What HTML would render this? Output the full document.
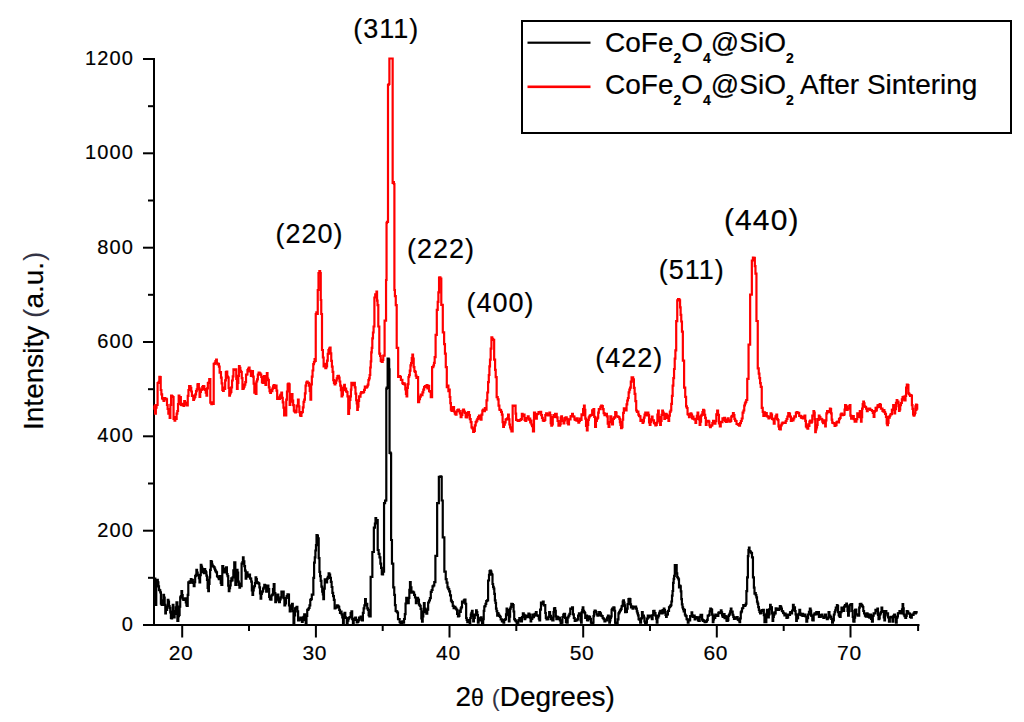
<!DOCTYPE html>
<html><head><meta charset="utf-8"><style>
html,body{margin:0;padding:0;background:#fff;}
body{width:1024px;height:722px;overflow:hidden;}
svg{display:block;}
text{font-family:"Liberation Sans", sans-serif;fill:#000;stroke:#000;stroke-width:0.2;}
.tl{font-size:20px;letter-spacing:1.2px;}
.xl{font-size:21px;letter-spacing:0.6px;}
.an{font-size:27px;letter-spacing:1px;}
.lg{font-size:28px;}
.sb{font-size:14px;font-weight:bold;}
.ax{font-size:28px;}
</style></head><body>
<svg width="1024" height="722" viewBox="0 0 1024 722">
<rect width="1024" height="722" fill="#fff"/>
<rect x="153" y="58" width="2" height="568" fill="#000"/>
<rect x="143" y="624" width="776.5" height="2" fill="#000"/>
<rect x="143" y="624.0" width="11" height="2" fill="#000"/>
<rect x="148" y="576.8" width="6" height="2" fill="#000"/>
<rect x="143" y="529.7" width="11" height="2" fill="#000"/>
<rect x="148" y="482.5" width="6" height="2" fill="#000"/>
<rect x="143" y="435.3" width="11" height="2" fill="#000"/>
<rect x="148" y="388.2" width="6" height="2" fill="#000"/>
<rect x="143" y="341.0" width="11" height="2" fill="#000"/>
<rect x="148" y="293.8" width="6" height="2" fill="#000"/>
<rect x="143" y="246.7" width="11" height="2" fill="#000"/>
<rect x="148" y="199.5" width="6" height="2" fill="#000"/>
<rect x="143" y="152.3" width="11" height="2" fill="#000"/>
<rect x="148" y="105.2" width="6" height="2" fill="#000"/>
<rect x="143" y="58.0" width="11" height="2" fill="#000"/>
<rect x="181.2" y="625" width="2" height="12.5" fill="#000"/>
<rect x="248.0" y="625" width="2" height="6" fill="#000"/>
<rect x="314.9" y="625" width="2" height="12.5" fill="#000"/>
<rect x="381.7" y="625" width="2" height="6" fill="#000"/>
<rect x="448.5" y="625" width="2" height="12.5" fill="#000"/>
<rect x="515.3" y="625" width="2" height="6" fill="#000"/>
<rect x="582.2" y="625" width="2" height="12.5" fill="#000"/>
<rect x="649.0" y="625" width="2" height="6" fill="#000"/>
<rect x="715.8" y="625" width="2" height="12.5" fill="#000"/>
<rect x="782.7" y="625" width="2" height="6" fill="#000"/>
<rect x="849.5" y="625" width="2" height="12.5" fill="#000"/>
<rect x="917.1" y="625" width="2" height="6" fill="#000"/>
<text x="134.2" y="631.0" text-anchor="end" class="tl">0</text>
<text x="134.2" y="536.7" text-anchor="end" class="tl">200</text>
<text x="134.2" y="442.3" text-anchor="end" class="tl">400</text>
<text x="134.2" y="348.0" text-anchor="end" class="tl">600</text>
<text x="134.2" y="253.7" text-anchor="end" class="tl">800</text>
<text x="134.2" y="159.3" text-anchor="end" class="tl">1000</text>
<text x="134.2" y="65.0" text-anchor="end" class="tl">1200</text>
<text x="181.1" y="660.2" text-anchor="middle" class="xl">20</text>
<text x="314.8" y="660.2" text-anchor="middle" class="xl">30</text>
<text x="448.4" y="660.2" text-anchor="middle" class="xl">40</text>
<text x="582.1" y="660.2" text-anchor="middle" class="xl">50</text>
<text x="715.7" y="660.2" text-anchor="middle" class="xl">60</text>
<text x="849.4" y="660.2" text-anchor="middle" class="xl">70</text>
<polyline points="155.00,578.6 155.30,578.6 155.30,604.8 155.60,604.8 156.25,604.8 156.25,579.9 156.90,579.9 157.20,579.9 157.20,579.8 157.50,579.8 157.80,579.8 157.80,582.4 158.10,582.4 158.40,582.4 158.40,586.3 158.70,586.3 159.00,586.3 159.00,589.8 159.30,589.8 159.62,589.8 159.62,590.4 159.95,590.4 160.27,590.4 160.27,592.3 160.60,592.3 160.90,592.3 160.90,603.6 161.20,603.6 161.52,603.6 161.52,604.7 161.85,604.7 162.18,604.7 162.18,604.8 162.50,604.8 162.80,604.8 162.80,600.4 163.10,600.4 163.40,600.4 163.40,594.8 163.70,594.8 164.02,594.8 164.02,597.6 164.35,597.6 164.68,597.6 164.68,604.8 165.00,604.8 165.30,604.8 165.30,613.5 165.60,613.5 165.90,613.5 165.90,609.2 166.20,609.2 166.50,609.2 166.50,609.8 166.80,609.8 167.12,609.8 167.12,606.5 167.45,606.5 167.77,606.5 167.77,599.8 168.10,599.8 168.40,599.8 168.40,601.7 168.70,601.7 169.00,601.7 169.00,606.0 169.30,606.0 169.62,606.0 169.62,607.8 169.95,607.8 170.27,607.8 170.27,612.3 170.60,612.3 170.90,612.3 170.90,617.9 171.20,617.9 171.50,617.9 171.50,618.5 171.80,618.5 172.12,618.5 172.12,611.5 172.45,611.5 172.77,611.5 172.77,604.8 173.10,604.8 173.40,604.8 173.40,612.7 173.70,612.7 174.00,612.7 174.00,617.3 174.30,617.3 174.60,617.3 174.60,614.0 174.90,614.0 175.20,614.0 175.20,611.0 175.50,611.0 175.82,611.0 175.82,607.3 176.15,607.3 176.48,607.3 176.48,602.3 176.80,602.3 177.40,602.3 177.40,621.0 178.00,621.0 178.32,621.0 178.32,616.2 178.65,616.2 178.98,616.2 178.98,614.8 179.30,614.8 179.60,614.8 179.60,606.7 179.90,606.7 180.20,606.7 180.20,597.3 180.50,597.3 180.82,597.3 180.82,596.0 181.15,596.0 181.48,596.0 181.48,591.1 181.80,591.1 182.10,591.1 182.10,595.0 182.40,595.0 182.70,595.0 182.70,598.6 183.00,598.6 183.32,598.6 183.32,599.8 183.63,599.8 183.95,599.8 183.95,599.5 184.27,599.5 184.58,599.5 184.58,598.6 184.90,598.6 185.20,598.6 185.20,598.3 185.50,598.3 185.80,598.3 185.80,602.3 186.10,602.3 186.43,602.3 186.43,605.4 186.75,605.4 187.07,605.4 187.07,606.0 187.40,606.0 187.70,606.0 187.70,594.8 188.00,594.8 188.30,594.8 188.30,582.4 188.60,582.4 188.92,582.4 188.92,582.9 189.23,582.9 189.55,582.9 189.55,581.4 189.87,581.4 190.18,581.4 190.18,582.4 190.50,582.4 190.82,582.4 190.82,579.2 191.13,579.2 191.45,579.2 191.45,582.6 191.77,582.6 192.08,582.6 192.08,579.9 192.40,579.9 192.85,579.9 192.85,582.9 193.30,582.9 193.75,582.9 193.75,586.1 194.20,586.1 194.52,586.1 194.52,582.2 194.85,582.2 195.18,582.2 195.18,576.1 195.50,576.1 195.80,576.1 195.80,574.9 196.10,574.9 196.40,574.9 196.40,569.9 196.70,569.9 197.02,569.9 197.02,572.6 197.33,572.6 197.65,572.6 197.65,575.3 197.97,575.3 198.28,575.3 198.28,574.9 198.60,574.9 198.90,574.9 198.90,578.1 199.20,578.1 199.50,578.1 199.50,582.4 199.80,582.4 200.12,582.4 200.12,575.2 200.45,575.2 200.77,575.2 200.77,564.9 201.10,564.9 201.40,564.9 201.40,566.5 201.70,566.5 202.00,566.5 202.00,568.7 202.30,568.7 202.62,568.7 202.62,572.1 202.95,572.1 203.27,572.1 203.27,571.2 203.60,571.2 203.92,571.2 203.92,573.1 204.23,573.1 204.55,573.1 204.55,569.2 204.87,569.2 205.18,569.2 205.18,571.2 205.50,571.2 205.80,571.2 205.80,572.3 206.10,572.3 206.40,572.3 206.40,575.6 206.70,575.6 207.00,575.6 207.00,579.9 207.30,579.9 207.62,579.9 207.62,587.8 207.95,587.8 208.27,587.8 208.27,591.1 208.60,591.1 208.90,591.1 208.90,583.9 209.20,583.9 209.50,583.9 209.50,577.4 209.80,577.4 210.12,577.4 210.12,569.9 210.45,569.9 210.77,569.9 210.77,561.2 211.10,561.2 211.40,561.2 211.40,561.9 211.70,561.9 212.00,561.9 212.00,564.6 212.30,564.6 212.60,564.6 212.60,566.2 212.90,566.2 213.22,566.2 213.22,566.5 213.53,566.5 213.85,566.5 213.85,567.1 214.17,567.1 214.48,567.1 214.48,568.7 214.80,568.7 215.12,568.7 215.12,570.4 215.43,570.4 215.75,570.4 215.75,571.6 216.07,571.6 216.38,571.6 216.38,572.4 216.70,572.4 217.00,572.4 217.00,576.1 217.30,576.1 217.60,576.1 217.60,576.6 217.90,576.6 218.20,576.6 218.20,577.4 218.50,577.4 218.82,577.4 218.82,579.1 219.13,579.1 219.45,579.1 219.45,578.3 219.77,578.3 220.08,578.3 220.08,576.1 220.40,576.1 220.73,576.1 220.73,583.0 221.05,583.0 221.38,583.0 221.38,584.9 221.70,584.9 222.30,584.9 222.30,566.2 222.90,566.2 223.22,566.2 223.22,569.1 223.53,569.1 223.85,569.1 223.85,568.6 224.17,568.6 224.48,568.6 224.48,572.4 224.80,572.4 225.25,572.4 225.25,571.7 225.70,571.7 226.15,571.7 226.15,567.4 226.60,567.4 226.93,567.4 226.93,574.1 227.25,574.1 227.57,574.1 227.57,576.1 227.90,576.1 228.20,576.1 228.20,585.6 228.50,585.6 228.80,585.6 228.80,591.1 229.10,591.1 229.42,591.1 229.42,588.1 229.73,588.1 230.05,588.1 230.05,585.5 230.37,585.5 230.68,585.5 230.68,581.1 231.00,581.1 231.32,581.1 231.32,578.4 231.63,578.4 231.95,578.4 231.95,580.3 232.27,580.3 232.58,580.3 232.58,577.4 232.90,577.4 233.35,577.4 233.35,570.3 233.80,570.3 234.25,570.3 234.25,562.4 234.70,562.4 235.35,562.4 235.35,584.9 236.00,584.9 236.30,584.9 236.30,576.3 236.60,576.3 236.90,576.3 236.90,569.9 237.20,569.9 237.52,569.9 237.52,572.7 237.83,572.7 238.15,572.7 238.15,581.7 238.47,581.7 238.78,581.7 238.78,584.9 239.10,584.9 239.42,584.9 239.42,587.7 239.73,587.7 240.05,587.7 240.05,583.6 240.37,583.6 240.68,583.6 240.68,586.1 241.00,586.1 241.60,586.1 241.60,563.7 242.20,563.7 242.45,563.7 242.45,562.1 242.70,562.1 242.95,562.1 242.95,557.4 243.20,557.4 243.57,557.4 243.57,561.4 243.95,561.4 244.32,561.4 244.32,566.2 244.70,566.2 245.02,566.2 245.02,570.7 245.35,570.7 245.68,570.7 245.68,578.6 246.00,578.6 246.30,578.6 246.30,574.5 246.60,574.5 246.90,574.5 246.90,572.4 247.20,572.4 247.52,572.4 247.52,575.0 247.83,575.0 248.15,575.0 248.15,576.7 248.47,576.7 248.78,576.7 248.78,576.1 249.10,576.1 249.40,576.1 249.40,574.7 249.70,574.7 250.00,574.7 250.00,578.3 250.30,578.3 250.60,578.3 250.60,578.6 250.90,578.6 251.22,578.6 251.22,581.7 251.53,581.7 251.85,581.7 251.85,590.5 252.17,590.5 252.48,590.5 252.48,594.8 252.80,594.8 253.10,594.8 253.10,590.3 253.40,590.3 253.70,590.3 253.70,587.4 254.00,587.4 254.32,587.4 254.32,586.0 254.63,586.0 254.95,586.0 254.95,583.1 255.27,583.1 255.58,583.1 255.58,577.4 255.90,577.4 256.22,577.4 256.22,579.1 256.53,579.1 256.85,579.1 256.85,583.2 257.17,583.2 257.48,583.2 257.48,582.4 257.80,582.4 258.12,582.4 258.12,583.1 258.43,583.1 258.75,583.1 258.75,583.6 259.07,583.6 259.38,583.6 259.38,587.4 259.70,587.4 260.00,587.4 260.00,593.5 260.30,593.5 260.60,593.5 260.60,598.6 260.90,598.6 261.22,598.6 261.22,593.8 261.53,593.8 261.85,593.8 261.85,592.1 262.17,592.1 262.48,592.1 262.48,591.1 262.80,591.1 263.10,591.1 263.10,588.6 263.40,588.6 263.70,588.6 263.70,587.5 264.00,587.5 264.30,587.5 264.30,584.9 264.60,584.9 264.92,584.9 264.92,585.4 265.23,585.4 265.55,585.4 265.55,587.1 265.87,587.1 266.18,587.1 266.18,591.6 266.50,591.6 266.88,591.6 266.88,590.4 267.25,590.4 267.62,590.4 267.62,585.5 268.00,585.5 268.38,585.5 268.38,589.1 268.77,589.1 269.15,589.1 269.15,596.9 269.53,596.9 269.92,596.9 269.92,599.2 270.30,599.2 270.68,599.2 270.68,599.6 271.07,599.6 271.45,599.6 271.45,595.5 271.83,595.5 272.22,595.5 272.22,594.6 272.60,594.6 272.98,594.6 272.98,589.1 273.35,589.1 273.73,589.1 273.73,584.0 274.10,584.0 274.50,584.0 274.50,593.2 274.90,593.2 275.30,593.2 275.30,602.2 275.70,602.2 276.07,602.2 276.07,600.4 276.43,600.4 276.80,600.4 276.80,597.6 277.17,597.6 277.53,597.6 277.53,594.6 277.90,594.6 278.30,594.6 278.30,598.7 278.70,598.7 279.10,598.7 279.10,602.2 279.50,602.2 279.88,602.2 279.88,599.3 280.27,599.3 280.65,599.3 280.65,597.3 281.03,597.3 281.42,597.3 281.42,591.6 281.80,591.6 282.18,591.6 282.18,591.6 282.55,591.6 282.93,591.6 282.93,591.6 283.30,591.6 283.68,591.6 283.68,598.1 284.05,598.1 284.43,598.1 284.43,605.3 284.80,605.3 285.18,605.3 285.18,603.3 285.57,603.3 285.95,603.3 285.95,597.9 286.33,597.9 286.72,597.9 286.72,596.1 287.10,596.1 287.48,596.1 287.48,594.4 287.85,594.4 288.23,594.4 288.23,594.6 288.60,594.6 288.98,594.6 288.98,605.4 289.35,605.4 289.73,605.4 289.73,611.4 290.10,611.4 290.48,611.4 290.48,609.0 290.87,609.0 291.25,609.0 291.25,606.6 291.63,606.6 292.02,606.6 292.02,603.8 292.40,603.8 292.77,603.8 292.77,611.2 293.15,611.2 293.52,611.2 293.52,623.5 293.90,623.5 294.30,623.5 294.30,615.5 294.70,615.5 295.10,615.5 295.10,608.3 295.50,608.3 295.88,608.3 295.88,607.9 296.25,607.9 296.62,607.9 296.62,606.8 297.00,606.8 297.38,606.8 297.38,611.3 297.75,611.3 298.12,611.3 298.12,620.5 298.50,620.5 298.88,620.5 298.88,620.1 299.27,620.1 299.65,620.1 299.65,619.2 300.03,619.2 300.42,619.2 300.42,617.5 300.80,617.5 301.18,617.5 301.18,617.6 301.55,617.6 301.93,617.6 301.93,622.0 302.30,622.0 302.68,622.0 302.68,620.1 303.07,620.1 303.45,620.1 303.45,616.8 303.83,616.8 304.22,616.8 304.22,614.4 304.60,614.4 304.98,614.4 304.98,619.8 305.35,619.8 305.73,619.8 305.73,623.5 306.10,623.5 306.48,623.5 306.48,615.9 306.85,615.9 307.23,615.9 307.23,609.8 307.60,609.8 307.98,609.8 307.98,609.3 308.37,609.3 308.75,609.3 308.75,608.0 309.13,608.0 309.52,608.0 309.52,605.3 309.90,605.3 310.27,605.3 310.27,599.9 310.65,599.9 311.02,599.9 311.02,599.2 311.40,599.2 311.80,599.2 311.80,594.7 312.20,594.7 312.60,594.7 312.60,594.6 313.00,594.6 313.35,594.6 313.35,577.9 313.70,577.9 314.10,577.9 314.10,562.6 314.50,562.6 314.80,562.6 314.80,557.4 315.10,557.4 315.40,557.4 315.40,550.5 315.70,550.5 315.98,550.5 315.98,545.2 316.25,545.2 316.52,545.2 316.52,535.2 316.80,535.2 317.18,535.2 317.18,535.5 317.55,535.5 317.93,535.5 317.93,538.3 318.30,538.3 318.70,538.3 318.70,558.1 319.10,558.1 319.45,558.1 319.45,571.8 319.80,571.8 320.10,571.8 320.10,576.1 320.40,576.1 320.70,576.1 320.70,580.9 321.00,580.9 321.40,580.9 321.40,586.7 321.80,586.7 322.20,586.7 322.20,591.6 322.60,591.6 322.85,591.6 322.85,594.5 323.10,594.5 323.35,594.5 323.35,599.2 323.60,599.2 323.98,599.2 323.98,588.6 324.35,588.6 324.73,588.6 324.73,579.4 325.10,579.4 325.50,579.4 325.50,580.0 325.90,580.0 326.30,580.0 326.30,582.4 326.70,582.4 327.08,582.4 327.08,578.7 327.47,578.7 327.85,578.7 327.85,576.8 328.23,576.8 328.62,576.8 328.62,573.3 329.00,573.3 329.38,573.3 329.38,574.6 329.75,574.6 330.12,574.6 330.12,577.9 330.50,577.9 330.88,577.9 330.88,581.8 331.25,581.8 331.62,581.8 331.62,587.0 332.00,587.0 332.38,587.0 332.38,592.9 332.75,592.9 333.12,592.9 333.12,596.1 333.50,596.1 333.88,596.1 333.88,599.8 334.25,599.8 334.62,599.8 334.62,608.3 335.00,608.3 335.38,608.3 335.38,607.6 335.77,607.6 336.15,607.6 336.15,607.5 336.53,607.5 336.92,607.5 336.92,605.3 337.30,605.3 337.68,605.3 337.68,605.9 338.07,605.9 338.45,605.9 338.45,606.9 338.83,606.9 339.22,606.9 339.22,609.8 339.60,609.8 339.98,609.8 339.98,612.9 340.37,612.9 340.75,612.9 340.75,611.6 341.13,611.6 341.52,611.6 341.52,614.4 341.90,614.4 342.27,614.4 342.27,617.4 342.65,617.4 343.02,617.4 343.02,623.5 343.40,623.5 343.77,623.5 343.77,617.9 344.15,617.9 344.52,617.9 344.52,612.9 344.90,612.9 345.28,612.9 345.28,617.4 345.67,617.4 346.05,617.4 346.05,618.0 346.43,618.0 346.82,618.0 346.82,623.5 347.20,623.5 347.58,623.5 347.58,620.6 347.97,620.6 348.35,620.6 348.35,618.7 348.73,618.7 349.12,618.7 349.12,617.5 349.50,617.5 349.88,617.5 349.88,617.1 350.27,617.1 350.65,617.1 350.65,613.1 351.03,613.1 351.42,613.1 351.42,611.4 351.80,611.4 352.18,611.4 352.18,619.2 352.55,619.2 352.93,619.2 352.93,623.5 353.30,623.5 353.68,623.5 353.68,619.8 354.07,619.8 354.45,619.8 354.45,618.7 354.83,618.7 355.22,618.7 355.22,617.5 355.60,617.5 355.98,617.5 355.98,619.8 356.37,619.8 356.75,619.8 356.75,622.4 357.13,622.4 357.52,622.4 357.52,622.0 357.90,622.0 358.28,622.0 358.28,620.3 358.67,620.3 359.05,620.3 359.05,617.6 359.43,617.6 359.82,617.6 359.82,617.5 360.20,617.5 360.58,617.5 360.58,616.6 360.97,616.6 361.35,616.6 361.35,619.6 361.73,619.6 362.12,619.6 362.12,620.5 362.50,620.5 362.88,620.5 362.88,612.9 363.25,612.9 363.62,612.9 363.62,608.3 364.00,608.3 364.38,608.3 364.38,605.3 364.75,605.3 365.12,605.3 365.12,599.2 365.50,599.2 365.85,599.2 365.85,604.0 366.20,604.0 366.55,604.0 366.55,603.8 366.90,603.8 367.25,603.8 367.25,608.4 367.60,608.4 367.95,608.4 367.95,609.9 368.30,609.9 368.65,609.9 368.65,615.2 369.00,615.2 369.35,615.2 369.35,616.3 369.70,616.3 370.65,616.3 370.65,576.8 371.60,576.8 372.35,576.8 372.35,552.0 373.10,552.0 373.85,552.0 373.85,527.6 374.60,527.6 374.90,527.6 374.90,523.5 375.20,523.5 375.50,523.5 375.50,518.0 375.80,518.0 376.15,518.0 376.15,520.5 376.50,520.5 376.85,520.5 376.85,520.0 377.20,520.0 377.70,520.0 377.70,550.0 378.20,550.0 378.63,550.0 378.63,553.8 379.07,553.8 379.50,553.8 379.50,557.3 379.93,557.3 380.37,557.3 380.37,563.7 380.80,563.7 381.12,563.7 381.12,567.9 381.45,567.9 381.78,567.9 381.78,574.2 382.10,574.2 382.43,574.2 382.43,574.4 382.75,574.4 383.07,574.4 383.07,571.6 383.40,571.6 384.05,571.6 384.05,503.2 384.70,503.2 385.07,503.2 385.07,500.7 385.45,500.7 385.82,500.7 385.82,500.5 386.20,500.5 386.30,500.5 386.30,388.8 386.40,388.8 386.70,388.8 386.70,387.6 387.00,387.6 387.30,387.6 387.30,388.0 387.60,388.0 387.65,388.0 387.65,358.7 387.70,358.7 388.02,358.7 388.02,358.7 388.35,358.7 388.68,358.7 388.68,359.5 389.00,359.5 389.15,359.5 389.15,369.4 389.30,369.4 389.55,369.4 389.55,452.8 389.80,452.8 390.08,452.8 390.08,452.7 390.35,452.7 390.62,452.7 390.62,453.5 390.90,453.5 391.10,453.5 391.10,540.0 391.30,540.0 391.95,540.0 391.95,563.7 392.60,563.7 393.25,563.7 393.25,587.4 393.90,587.4 394.25,587.4 394.25,594.8 394.60,594.8 394.95,594.8 394.95,605.2 395.30,605.2 395.65,605.2 395.65,611.0 396.00,611.0 396.40,611.0 396.40,611.3 396.80,611.3 397.20,611.3 397.20,612.5 397.60,612.5 398.00,612.5 398.00,619.2 398.40,619.2 398.80,619.2 398.80,619.0 399.20,619.0 399.63,619.0 399.63,622.2 400.07,622.2 400.50,622.2 400.50,624.0 400.93,624.0 401.37,624.0 401.37,622.9 401.80,622.9 402.25,622.9 402.25,621.3 402.70,621.3 403.15,621.3 403.15,622.6 403.60,622.6 404.05,622.6 404.05,619.0 404.50,619.0 404.85,619.0 404.85,614.1 405.20,614.1 405.55,614.1 405.55,603.5 405.90,603.5 406.25,603.5 406.25,597.9 406.60,597.9 407.05,597.9 407.05,601.8 407.50,601.8 407.95,601.8 407.95,603.2 408.40,603.2 408.72,603.2 408.72,597.9 409.03,597.9 409.35,597.9 409.35,589.9 409.67,589.9 409.98,589.9 409.98,582.1 410.30,582.1 410.68,582.1 410.68,587.4 411.05,587.4 411.43,587.4 411.43,592.6 411.80,592.6 412.12,592.6 412.12,591.5 412.43,591.5 412.75,591.5 412.75,591.8 413.07,591.8 413.38,591.8 413.38,592.6 413.70,592.6 414.13,592.6 414.13,594.8 414.57,594.8 415.00,594.8 415.00,597.5 415.43,597.5 415.87,597.5 415.87,603.2 416.30,603.2 416.62,603.2 416.62,601.0 416.95,601.0 417.28,601.0 417.28,597.9 417.60,597.9 418.05,597.9 418.05,599.5 418.50,599.5 418.95,599.5 418.95,604.7 419.40,604.7 419.85,604.7 419.85,605.8 420.30,605.8 420.65,605.8 420.65,608.8 421.00,608.8 421.35,608.8 421.35,618.4 421.70,618.4 422.05,618.4 422.05,621.6 422.40,621.6 422.70,621.6 422.70,616.4 423.00,616.4 423.30,616.4 423.30,611.5 423.60,611.5 423.90,611.5 423.90,603.2 424.20,603.2 424.63,603.2 424.63,608.7 425.07,608.7 425.50,608.7 425.50,612.2 425.93,612.2 426.37,612.2 426.37,613.7 426.80,613.7 427.25,613.7 427.25,609.7 427.70,609.7 428.15,609.7 428.15,602.5 428.60,602.5 429.05,602.5 429.05,600.5 429.50,600.5 429.93,600.5 429.93,598.2 430.37,598.2 430.80,598.2 430.80,591.9 431.23,591.9 431.67,591.9 431.67,590.0 432.10,590.0 432.53,590.0 432.53,586.4 432.97,586.4 433.40,586.4 433.40,585.5 433.83,585.5 434.27,585.5 434.27,582.1 434.70,582.1 435.40,582.1 435.40,555.8 436.10,555.8 437.15,555.8 437.15,503.2 438.20,503.2 438.85,503.2 438.85,476.8 439.50,476.8 439.80,476.8 439.80,476.9 440.10,476.9 440.40,476.9 440.40,476.4 440.70,476.4 441.00,476.4 441.00,476.8 441.30,476.8 441.70,476.8 441.70,500.5 442.10,500.5 442.75,500.5 442.75,537.4 443.40,537.4 444.35,537.4 444.35,571.6 445.30,571.6 445.73,571.6 445.73,579.1 446.17,579.1 446.60,579.1 446.60,582.7 447.03,582.7 447.47,582.7 447.47,587.4 447.90,587.4 448.33,587.4 448.33,589.2 448.77,589.2 449.20,589.2 449.20,591.4 449.63,591.4 450.07,591.4 450.07,595.3 450.50,595.3 450.95,595.3 450.95,600.6 451.40,600.6 451.85,600.6 451.85,602.2 452.30,602.2 452.75,602.2 452.75,605.8 453.20,605.8 453.63,605.8 453.63,608.1 454.07,608.1 454.50,608.1 454.50,606.8 454.93,606.8 455.37,606.8 455.37,608.4 455.80,608.4 456.23,608.4 456.23,609.5 456.67,609.5 457.10,609.5 457.10,613.8 457.53,613.8 457.97,613.8 457.97,616.3 458.40,616.3 458.74,616.3 458.74,615.9 459.07,615.9 459.41,615.9 459.41,610.7 459.75,610.7 460.09,610.7 460.09,611.8 460.43,611.8 460.76,611.8 460.76,608.4 461.10,608.4 461.40,608.4 461.40,607.1 461.70,607.1 462.00,607.1 462.00,601.6 462.30,601.6 462.60,601.6 462.60,602.7 462.90,602.7 463.20,602.7 463.20,602.4 463.50,602.4 463.80,602.4 463.80,600.4 464.10,600.4 464.55,600.4 464.55,599.7 465.00,599.7 465.45,599.7 465.45,603.9 465.90,603.9 466.15,603.9 466.15,618.0 466.40,618.0 466.70,618.0 466.70,619.8 467.00,619.8 467.30,619.8 467.30,622.1 467.60,622.1 467.90,622.1 467.90,621.5 468.20,621.5 468.50,621.5 468.50,620.0 468.80,620.0 469.10,620.0 469.10,621.9 469.40,621.9 469.70,621.9 469.70,623.8 470.00,623.8 470.27,623.8 470.27,618.0 470.55,618.0 470.83,618.0 470.83,614.5 471.10,614.5 471.40,614.5 471.40,612.8 471.70,612.8 472.00,612.8 472.00,610.9 472.30,610.9 472.60,610.9 472.60,615.8 472.90,615.8 473.20,615.8 473.20,621.5 473.50,621.5 473.93,621.5 473.93,617.9 474.35,617.9 474.77,617.9 474.77,614.5 475.20,614.5 475.50,614.5 475.50,615.1 475.80,615.1 476.10,615.1 476.10,610.4 476.40,610.4 476.70,610.4 476.70,612.1 477.00,612.1 477.30,612.1 477.30,615.2 477.60,615.2 477.90,615.2 477.90,622.7 478.20,622.7 478.62,622.7 478.62,619.6 479.05,619.6 479.47,619.6 479.47,620.3 479.90,620.3 480.20,620.3 480.20,618.0 480.50,618.0 480.80,618.0 480.80,617.3 481.10,617.3 481.40,617.3 481.40,619.1 481.70,619.1 482.00,619.1 482.00,623.8 482.30,623.8 482.60,623.8 482.60,623.8 482.90,623.8 483.17,623.8 483.17,619.1 483.45,619.1 483.73,619.1 483.73,610.9 484.00,610.9 484.30,610.9 484.30,606.5 484.60,606.5 484.90,606.5 484.90,606.2 485.20,606.2 485.50,606.2 485.50,603.9 485.80,603.9 486.23,603.9 486.23,601.2 486.65,601.2 487.07,601.2 487.07,600.4 487.50,600.4 488.10,600.4 488.10,580.5 488.70,580.5 489.00,580.5 489.00,574.9 489.30,574.9 489.60,574.9 489.60,571.1 489.90,571.1 490.20,571.1 490.20,570.7 490.50,570.7 490.80,570.7 490.80,571.7 491.10,571.7 491.38,571.7 491.38,573.9 491.65,573.9 491.92,573.9 491.92,574.6 492.20,574.6 492.50,574.6 492.50,584.0 492.80,584.0 493.10,584.0 493.10,586.8 493.40,586.8 493.70,586.8 493.70,588.7 494.00,588.7 494.30,588.7 494.30,593.9 494.60,593.9 494.90,593.9 494.90,600.4 495.20,600.4 495.48,600.4 495.48,603.0 495.75,603.0 496.02,603.0 496.02,608.6 496.30,608.6 496.60,608.6 496.60,611.2 496.90,611.2 497.20,611.2 497.20,615.6 497.50,615.6 497.80,615.6 497.80,613.2 498.10,613.2 498.40,613.2 498.40,614.5 498.70,614.5 499.12,614.5 499.12,615.9 499.55,615.9 499.97,615.9 499.97,616.8 500.40,616.8 500.70,616.8 500.70,619.4 501.00,619.4 501.30,619.4 501.30,619.3 501.60,619.3 501.90,619.3 501.90,621.5 502.20,621.5 502.62,621.5 502.62,620.0 503.05,620.0 503.47,620.0 503.47,622.7 503.90,622.7 504.20,622.7 504.20,619.9 504.50,619.9 504.80,619.9 504.80,619.7 505.10,619.7 505.40,619.7 505.40,619.1 505.70,619.1 506.00,619.1 506.00,614.4 506.30,614.4 506.60,614.4 506.60,608.6 506.90,608.6 507.17,608.6 507.17,610.6 507.45,610.6 507.73,610.6 507.73,609.8 508.00,609.8 508.30,609.8 508.30,615.1 508.60,615.1 508.90,615.1 508.90,621.5 509.20,621.5 509.50,621.5 509.50,616.6 509.80,616.6 510.10,616.6 510.10,608.6 510.40,608.6 510.70,608.6 510.70,606.9 511.00,606.9 511.30,606.9 511.30,603.9 511.60,603.9 512.03,603.9 512.03,604.2 512.45,604.2 512.88,604.2 512.88,605.1 513.30,605.1 513.60,605.1 513.60,611.5 513.90,611.5 514.20,611.5 514.20,619.1 514.50,619.1 514.95,619.1 514.95,620.3 515.40,620.3 515.85,620.3 515.85,621.5 516.30,621.5 516.72,621.5 516.72,623.1 517.15,623.1 517.58,623.1 517.58,622.7 518.00,622.7 518.45,622.7 518.45,620.0 518.90,620.0 519.35,620.0 519.35,618.0 519.80,618.0 520.22,618.0 520.22,620.7 520.65,620.7 521.08,620.7 521.08,621.5 521.50,621.5 521.95,621.5 521.95,617.2 522.40,617.2 522.85,617.2 522.85,613.3 523.30,613.3 523.72,613.3 523.72,614.9 524.15,614.9 524.58,614.9 524.58,619.1 525.00,619.1 525.30,619.1 525.30,617.5 525.60,617.5 525.90,617.5 525.90,615.6 526.20,615.6 526.65,615.6 526.65,617.2 527.10,617.2 527.55,617.2 527.55,616.8 528.00,616.8 528.42,616.8 528.42,613.5 528.85,613.5 529.28,613.5 529.28,614.5 529.70,614.5 530.00,614.5 530.00,617.6 530.30,617.6 530.60,617.6 530.60,621.5 530.90,621.5 531.20,621.5 531.20,618.8 531.50,618.8 531.80,618.8 531.80,618.7 532.10,618.7 532.40,618.7 532.40,614.5 532.70,614.5 533.12,614.5 533.12,617.2 533.55,617.2 533.97,617.2 533.97,615.6 534.40,615.6 534.70,615.6 534.70,613.8 535.00,613.8 535.30,613.8 535.30,615.3 535.60,615.3 535.90,615.3 535.90,612.1 536.20,612.1 536.62,612.1 536.62,615.3 537.05,615.3 537.47,615.3 537.47,615.6 537.90,615.6 538.20,615.6 538.20,616.0 538.50,616.0 538.80,616.0 538.80,618.6 539.10,618.6 539.40,618.6 539.40,620.3 539.70,620.3 540.12,620.3 540.12,609.6 540.55,609.6 540.97,609.6 540.97,602.7 541.40,602.7 541.70,602.7 541.70,603.9 542.00,603.9 542.30,603.9 542.30,602.8 542.60,602.8 542.90,602.8 542.90,601.6 543.20,601.6 543.65,601.6 543.65,605.3 544.10,605.3 544.55,605.3 544.55,605.1 545.00,605.1 545.27,605.1 545.27,613.0 545.55,613.0 545.83,613.0 545.83,618.0 546.10,618.0 546.55,618.0 546.55,619.4 547.00,619.4 547.45,619.4 547.45,619.1 547.90,619.1 548.33,619.1 548.33,616.8 548.75,616.8 549.17,616.8 549.17,612.1 549.60,612.1 550.05,612.1 550.05,615.9 550.50,615.9 550.95,615.9 550.95,619.1 551.40,619.1 551.70,619.1 551.70,617.5 552.00,617.5 552.30,617.5 552.30,620.3 552.60,620.3 552.90,620.3 552.90,620.3 553.20,620.3 553.48,620.3 553.48,612.0 553.75,612.0 554.02,612.0 554.02,608.6 554.30,608.6 554.60,608.6 554.60,608.0 554.90,608.0 555.20,608.0 555.20,610.9 555.50,610.9 555.80,610.9 555.80,616.4 556.10,616.4 556.40,616.4 556.40,619.1 556.70,619.1 557.12,619.1 557.12,616.8 557.55,616.8 557.97,616.8 557.97,619.1 558.40,619.1 558.70,619.1 558.70,617.5 559.00,617.5 559.30,617.5 559.30,617.9 559.60,617.9 559.90,617.9 559.90,620.3 560.20,620.3 560.65,620.3 560.65,623.4 561.10,623.4 561.55,623.4 561.55,622.7 562.00,622.7 562.42,622.7 562.42,617.0 562.85,617.0 563.28,617.0 563.28,614.5 563.70,614.5 564.15,614.5 564.15,613.9 564.60,613.9 565.05,613.9 565.05,618.0 565.50,618.0 565.92,618.0 565.92,622.1 566.35,622.1 566.78,622.1 566.78,622.7 567.20,622.7 567.65,622.7 567.65,617.3 568.10,617.3 568.55,617.3 568.55,615.6 569.00,615.6 569.42,615.6 569.42,613.8 569.85,613.8 570.28,613.8 570.28,608.6 570.70,608.6 571.15,608.6 571.15,608.9 571.60,608.9 572.05,608.9 572.05,607.4 572.50,607.4 572.95,607.4 572.95,614.4 573.40,614.4 573.85,614.4 573.85,618.0 574.30,618.0 574.72,618.0 574.72,621.0 575.13,621.0 575.55,621.0 575.55,619.9 575.97,619.9 576.38,619.9 576.38,620.3 576.80,620.3 577.22,620.3 577.22,619.4 577.65,619.4 578.08,619.4 578.08,615.6 578.50,615.6 578.95,615.6 578.95,613.3 579.40,613.3 579.85,613.3 579.85,615.6 580.30,615.6 580.57,615.6 580.57,620.5 580.85,620.5 581.12,620.5 581.12,622.7 581.40,622.7 581.70,622.7 581.70,612.1 582.00,612.1 582.25,612.1 582.25,609.8 582.50,609.8 582.75,609.8 582.75,607.4 583.00,607.4 583.35,607.4 583.35,610.8 583.70,610.8 584.05,610.8 584.05,612.1 584.40,612.1 584.67,612.1 584.67,613.1 584.95,613.1 585.23,613.1 585.23,618.0 585.50,618.0 585.80,618.0 585.80,618.0 586.10,618.0 586.40,618.0 586.40,615.6 586.70,615.6 587.00,615.6 587.00,620.1 587.30,620.1 587.60,620.1 587.60,620.3 587.90,620.3 588.33,620.3 588.33,616.4 588.75,616.4 589.17,616.4 589.17,616.8 589.60,616.8 590.05,616.8 590.05,618.9 590.50,618.9 590.95,618.9 590.95,622.7 591.40,622.7 591.70,622.7 591.70,623.0 592.00,623.0 592.30,623.0 592.30,624.3 592.60,624.3 592.90,624.3 592.90,622.7 593.20,622.7 593.48,622.7 593.48,616.1 593.75,616.1 594.02,616.1 594.02,612.1 594.30,612.1 594.60,612.1 594.60,610.5 594.90,610.5 595.20,610.5 595.20,610.8 595.50,610.8 595.80,610.8 595.80,612.1 596.10,612.1 596.55,612.1 596.55,614.4 597.00,614.4 597.45,614.4 597.45,615.6 597.90,615.6 598.33,615.6 598.33,615.1 598.75,615.1 599.17,615.1 599.17,612.1 599.60,612.1 600.05,612.1 600.05,613.3 600.50,613.3 600.95,613.3 600.95,615.6 601.40,615.6 601.83,615.6 601.83,616.1 602.25,616.1 602.67,616.1 602.67,618.0 603.10,618.0 603.55,618.0 603.55,619.2 604.00,619.2 604.45,619.2 604.45,621.5 604.90,621.5 605.33,621.5 605.33,620.2 605.75,620.2 606.17,620.2 606.17,620.3 606.60,620.3 607.05,620.3 607.05,617.5 607.50,617.5 607.95,617.5 607.95,615.6 608.40,615.6 608.70,615.6 608.70,617.1 609.00,617.1 609.30,617.1 609.30,622.7 609.60,622.7 609.88,622.7 609.88,620.4 610.15,620.4 610.43,620.4 610.43,618.0 610.70,618.0 611.00,618.0 611.00,616.3 611.30,616.3 611.60,616.3 611.60,609.8 611.90,609.8 612.20,609.8 612.20,608.6 612.50,608.6 612.80,608.6 612.80,609.4 613.10,609.4 613.40,609.4 613.40,607.4 613.70,607.4 613.98,607.4 613.98,607.5 614.25,607.5 614.52,607.5 614.52,610.9 614.80,610.9 615.10,610.9 615.10,622.7 615.40,622.7 615.70,622.7 615.70,624.0 616.00,624.0 616.30,624.0 616.30,624.7 616.60,624.7 616.90,624.7 616.90,623.8 617.20,623.8 617.62,623.8 617.62,619.4 618.05,619.4 618.47,619.4 618.47,613.3 618.90,613.3 619.20,613.3 619.20,612.2 619.50,612.2 619.80,612.2 619.80,610.9 620.10,610.9 620.40,610.9 620.40,609.8 620.70,609.8 621.00,609.8 621.00,608.8 621.30,608.8 621.60,608.8 621.60,606.3 621.90,606.3 622.17,606.3 622.17,605.9 622.45,605.9 622.73,605.9 622.73,601.6 623.00,601.6 623.30,601.6 623.30,600.4 623.60,600.4 623.90,600.4 623.90,602.7 624.20,602.7 624.50,602.7 624.50,605.4 624.80,605.4 625.10,605.4 625.10,612.1 625.40,612.1 625.70,612.1 625.70,612.2 626.00,612.2 626.30,612.2 626.30,611.8 626.60,611.8 626.90,611.8 626.90,608.6 627.20,608.6 627.62,608.6 627.62,604.0 628.05,604.0 628.47,604.0 628.47,599.2 628.90,599.2 629.20,599.2 629.20,598.9 629.50,598.9 629.80,598.9 629.80,599.2 630.10,599.2 630.40,599.2 630.40,604.4 630.70,604.4 631.00,604.4 631.00,607.4 631.30,607.4 631.72,607.4 631.72,606.4 632.15,606.4 632.58,606.4 632.58,608.6 633.00,608.6 633.45,608.6 633.45,606.8 633.90,606.8 634.35,606.8 634.35,607.4 634.80,607.4 635.22,607.4 635.22,606.5 635.65,606.5 636.08,606.5 636.08,608.6 636.50,608.6 636.80,608.6 636.80,611.4 637.10,611.4 637.40,611.4 637.40,613.3 637.70,613.3 638.00,613.3 638.00,615.3 638.30,615.3 638.60,615.3 638.60,619.1 638.90,619.1 639.33,619.1 639.33,619.6 639.75,619.6 640.17,619.6 640.17,622.7 640.60,622.7 641.05,622.7 641.05,618.4 641.50,618.4 641.95,618.4 641.95,612.1 642.40,612.1 642.70,612.1 642.70,616.1 643.00,616.1 643.30,616.1 643.30,615.6 643.60,615.6 643.88,615.6 643.88,617.5 644.15,617.5 644.43,617.5 644.43,621.5 644.70,621.5 645.15,621.5 645.15,623.1 645.60,623.1 646.05,623.1 646.05,622.7 646.50,622.7 646.92,622.7 646.92,618.7 647.35,618.7 647.78,618.7 647.78,615.6 648.20,615.6 648.60,615.6 648.60,617.4 649.00,617.4 649.40,617.4 649.40,616.0 649.80,616.0 650.20,616.0 650.20,615.6 650.60,615.6 651.03,615.6 651.03,616.2 651.45,616.2 651.88,616.2 651.88,619.1 652.30,619.1 652.60,619.1 652.60,615.0 652.90,615.0 653.20,615.0 653.20,611.2 653.50,611.2 653.80,611.2 653.80,610.9 654.10,610.9 654.55,610.9 654.55,613.1 655.00,613.1 655.45,613.1 655.45,615.6 655.90,615.6 656.17,615.6 656.17,618.6 656.45,618.6 656.73,618.6 656.73,622.7 657.00,622.7 657.45,622.7 657.45,617.5 657.90,617.5 658.35,617.5 658.35,615.6 658.80,615.6 659.10,615.6 659.10,613.3 659.40,613.3 659.70,613.3 659.70,611.6 660.00,611.6 660.30,611.6 660.30,610.9 660.60,610.9 661.03,610.9 661.03,613.5 661.45,613.5 661.88,613.5 661.88,613.3 662.30,613.3 662.60,613.3 662.60,610.0 662.90,610.0 663.20,610.0 663.20,612.6 663.50,612.6 663.80,612.6 663.80,608.6 664.10,608.6 664.38,608.6 664.38,610.2 664.65,610.2 664.93,610.2 664.93,612.1 665.20,612.1 665.50,612.1 665.50,614.9 665.80,614.9 666.10,614.9 666.10,616.8 666.40,616.8 666.70,616.8 666.70,614.7 667.00,614.7 667.30,614.7 667.30,614.5 667.60,614.5 667.90,614.5 667.90,610.9 668.20,610.9 668.48,610.9 668.48,610.8 668.75,610.8 669.02,610.8 669.02,607.4 669.30,607.4 669.60,607.4 669.60,606.9 669.90,606.9 670.20,606.9 670.20,605.8 670.50,605.8 670.80,605.8 670.80,605.1 671.10,605.1 671.40,605.1 671.40,601.5 671.70,601.5 672.00,601.5 672.00,595.7 672.30,595.7 672.57,595.7 672.57,591.0 672.85,591.0 673.12,591.0 673.12,582.8 673.40,582.8 673.65,582.8 673.65,578.8 673.90,578.8 674.15,578.8 674.15,575.8 674.40,575.8 674.80,575.8 674.80,565.2 675.20,565.2 675.50,565.2 675.50,566.4 675.80,566.4 676.10,566.4 676.10,565.2 676.40,565.2 676.67,565.2 676.67,573.4 676.95,573.4 677.23,573.4 677.23,577.0 677.50,577.0 677.80,577.0 677.80,578.0 678.10,578.0 678.40,578.0 678.40,579.3 678.70,579.3 679.00,579.3 679.00,587.5 679.30,587.5 679.60,587.5 679.60,585.5 679.90,585.5 680.20,585.5 680.20,586.3 680.50,586.3 680.77,586.3 680.77,591.4 681.05,591.4 681.33,591.4 681.33,599.2 681.60,599.2 681.90,599.2 681.90,604.4 682.20,604.4 682.50,604.4 682.50,607.4 682.80,607.4 683.10,607.4 683.10,609.1 683.40,609.1 683.70,609.1 683.70,611.3 684.00,611.3 684.30,611.3 684.30,609.8 684.60,609.8 684.88,609.8 684.88,614.5 685.15,614.5 685.43,614.5 685.43,615.6 685.70,615.6 686.00,615.6 686.00,616.1 686.30,616.1 686.60,616.1 686.60,619.1 686.90,619.1 687.20,619.1 687.20,619.3 687.50,619.3 687.80,619.3 687.80,622.7 688.10,622.7 688.53,622.7 688.53,620.3 688.95,620.3 689.38,620.3 689.38,620.3 689.80,620.3 690.15,620.3 690.15,616.1 690.50,616.1 690.85,616.1 690.85,616.0 691.20,616.0 691.55,616.0 691.55,612.3 691.90,612.3 692.20,612.3 692.20,615.3 692.50,615.3 692.80,615.3 692.80,616.8 693.10,616.8 693.40,616.8 693.40,616.0 693.70,616.0 694.02,616.0 694.02,615.6 694.33,615.6 694.65,615.6 694.65,619.5 694.97,619.5 695.28,619.5 695.28,618.5 695.60,618.5 695.92,618.5 695.92,617.2 696.23,617.2 696.55,617.2 696.55,617.3 696.87,617.3 697.18,617.3 697.18,617.3 697.50,617.3 697.95,617.3 697.95,620.3 698.40,620.3 698.85,620.3 698.85,621.0 699.30,621.0 699.72,621.0 699.72,616.9 700.13,616.9 700.55,616.9 700.55,614.8 700.97,614.8 701.38,614.8 701.38,614.8 701.80,614.8 702.12,614.8 702.12,619.6 702.45,619.6 702.78,619.6 702.78,621.0 703.10,621.0 703.42,621.0 703.42,620.4 703.73,620.4 704.05,620.4 704.05,621.1 704.37,621.1 704.68,621.1 704.68,622.2 705.00,622.2 705.40,622.2 705.40,621.8 705.80,621.8 706.20,621.8 706.20,621.5 706.60,621.5 707.00,621.5 707.00,619.8 707.40,619.8 707.72,619.8 707.72,615.7 708.03,615.7 708.35,615.7 708.35,615.6 708.67,615.6 708.98,615.6 708.98,614.8 709.30,614.8 709.62,614.8 709.62,611.3 709.95,611.3 710.28,611.3 710.28,608.5 710.60,608.5 710.90,608.5 710.90,609.1 711.20,609.1 711.50,609.1 711.50,609.8 711.80,609.8 712.12,609.8 712.12,614.6 712.45,614.6 712.78,614.6 712.78,622.2 713.10,622.2 713.40,622.2 713.40,619.5 713.70,619.5 714.00,619.5 714.00,616.0 714.30,616.0 714.62,616.0 714.62,617.9 714.93,617.9 715.25,617.9 715.25,614.7 715.57,614.7 715.88,614.7 715.88,614.8 716.20,614.8 716.65,614.8 716.65,615.6 717.10,615.6 717.55,615.6 717.55,616.0 718.00,616.0 718.32,616.0 718.32,612.9 718.63,612.9 718.95,612.9 718.95,612.4 719.27,612.4 719.58,612.4 719.58,612.3 719.90,612.3 720.22,612.3 720.22,613.1 720.53,613.1 720.85,613.1 720.85,610.4 721.17,610.4 721.48,610.4 721.48,612.3 721.80,612.3 722.10,612.3 722.10,615.5 722.40,615.5 722.70,615.5 722.70,616.8 723.00,616.8 723.30,616.8 723.30,616.0 723.60,616.0 723.92,616.0 723.92,614.0 724.23,614.0 724.55,614.0 724.55,618.2 724.87,618.2 725.18,618.2 725.18,616.0 725.50,616.0 725.82,616.0 725.82,617.0 726.13,617.0 726.45,617.0 726.45,620.7 726.77,620.7 727.08,620.7 727.08,621.0 727.40,621.0 727.72,621.0 727.72,620.2 728.03,620.2 728.35,620.2 728.35,615.8 728.67,615.8 728.98,615.8 728.98,614.8 729.30,614.8 729.60,614.8 729.60,613.6 729.90,613.6 730.20,613.6 730.20,611.4 730.50,611.4 730.80,611.4 730.80,608.5 731.10,608.5 731.42,608.5 731.42,612.1 731.73,612.1 732.05,612.1 732.05,611.5 732.37,611.5 732.68,611.5 732.68,614.8 733.00,614.8 733.32,614.8 733.32,616.9 733.63,616.9 733.95,616.9 733.95,618.8 734.27,618.8 734.58,618.8 734.58,617.3 734.90,617.3 735.20,617.3 735.20,618.6 735.50,618.6 735.80,618.6 735.80,618.3 736.10,618.3 736.40,618.3 736.40,618.5 736.70,618.5 737.02,618.5 737.02,617.0 737.33,617.0 737.65,617.0 737.65,619.3 737.97,619.3 738.28,619.3 738.28,619.8 738.60,619.8 738.90,619.8 738.90,620.3 739.20,620.3 739.50,620.3 739.50,622.2 739.80,622.2 740.12,622.2 740.12,618.3 740.45,618.3 740.78,618.3 740.78,612.3 741.10,612.3 741.40,612.3 741.40,611.3 741.70,611.3 742.00,611.3 742.00,608.5 742.30,608.5 742.62,608.5 742.62,608.0 742.93,608.0 743.25,608.0 743.25,605.2 743.57,605.2 743.88,605.2 743.88,606.0 744.20,606.0 744.52,606.0 744.52,605.9 744.83,605.9 745.15,605.9 745.15,605.1 745.47,605.1 745.78,605.1 745.78,603.6 746.10,603.6 746.40,603.6 746.40,591.1 746.70,591.1 747.15,591.1 747.15,577.4 747.60,577.4 747.90,577.4 747.90,556.2 748.20,556.2 748.45,556.2 748.45,550.2 748.70,550.2 748.95,550.2 748.95,547.5 749.20,547.5 749.52,547.5 749.52,551.1 749.83,551.1 750.15,551.1 750.15,551.6 750.47,551.6 750.78,551.6 750.78,552.5 751.10,552.5 751.40,552.5 751.40,553.1 751.70,553.1 752.00,553.1 752.00,557.4 752.30,557.4 752.95,557.4 752.95,577.4 753.60,577.4 753.90,577.4 753.90,587.7 754.20,587.7 754.50,587.7 754.50,593.6 754.80,593.6 755.12,593.6 755.12,593.0 755.43,593.0 755.75,593.0 755.75,595.2 756.07,595.2 756.38,595.2 756.38,597.3 756.70,597.3 757.00,597.3 757.00,601.6 757.30,601.6 757.60,601.6 757.60,603.6 757.90,603.6 758.22,603.6 758.22,607.2 758.55,607.2 758.88,607.2 758.88,609.8 759.20,609.8 759.50,609.8 759.50,611.9 759.80,611.9 760.10,611.9 760.10,613.5 760.40,613.5 760.72,613.5 760.72,613.0 761.05,613.0 761.38,613.0 761.38,611.0 761.70,611.0 762.15,611.0 762.15,610.2 762.60,610.2 763.05,610.2 763.05,609.8 763.50,609.8 763.83,609.8 763.83,615.1 764.15,615.1 764.47,615.1 764.47,622.2 764.80,622.2 765.10,622.2 765.10,620.6 765.40,620.6 765.70,620.6 765.70,622.2 766.00,622.2 766.33,622.2 766.33,613.8 766.65,613.8 766.97,613.8 766.97,609.8 767.30,609.8 767.60,609.8 767.60,614.6 767.90,614.6 768.20,614.6 768.20,617.3 768.50,617.3 768.82,617.3 768.82,614.4 769.13,614.4 769.45,614.4 769.45,609.2 769.77,609.2 770.08,609.2 770.08,604.8 770.40,604.8 770.70,604.8 770.70,607.2 771.00,607.2 771.30,607.2 771.30,607.3 771.60,607.3 771.92,607.3 771.92,613.4 772.25,613.4 772.58,613.4 772.58,621.0 772.90,621.0 773.20,621.0 773.20,616.9 773.50,616.9 773.80,616.9 773.80,614.6 774.10,614.6 774.40,614.6 774.40,612.3 774.70,612.3 775.02,612.3 775.02,613.3 775.33,613.3 775.65,613.3 775.65,608.3 775.97,608.3 776.28,608.3 776.28,609.8 776.60,609.8 776.92,609.8 776.92,609.8 777.23,609.8 777.55,609.8 777.55,608.5 777.87,608.5 778.18,608.5 778.18,609.8 778.50,609.8 778.95,609.8 778.95,609.2 779.40,609.2 779.85,609.2 779.85,606.0 780.30,606.0 780.62,606.0 780.62,606.9 780.93,606.9 781.25,606.9 781.25,608.5 781.57,608.5 781.88,608.5 781.88,611.0 782.20,611.0 782.52,611.0 782.52,611.4 782.83,611.4 783.15,611.4 783.15,612.9 783.47,612.9 783.78,612.9 783.78,613.5 784.10,613.5 784.42,613.5 784.42,615.3 784.73,615.3 785.05,615.3 785.05,613.6 785.37,613.6 785.68,613.6 785.68,614.8 786.00,614.8 786.45,614.8 786.45,617.8 786.90,617.8 787.35,617.8 787.35,617.3 787.80,617.3 788.12,617.3 788.12,614.5 788.43,614.5 788.75,614.5 788.75,614.5 789.07,614.5 789.38,614.5 789.38,614.8 789.70,614.8 790.02,614.8 790.02,612.4 790.33,612.4 790.65,612.4 790.65,612.0 790.97,612.0 791.28,612.0 791.28,613.5 791.60,613.5 792.05,613.5 792.05,610.5 792.50,610.5 792.95,610.5 792.95,604.8 793.40,604.8 793.72,604.8 793.72,608.0 794.03,608.0 794.35,608.0 794.35,607.4 794.67,607.4 794.98,607.4 794.98,611.0 795.30,611.0 795.60,611.0 795.60,614.4 795.90,614.4 796.20,614.4 796.20,621.0 796.50,621.0 796.82,621.0 796.82,618.5 797.13,618.5 797.45,618.5 797.45,618.1 797.77,618.1 798.08,618.1 798.08,614.8 798.40,614.8 798.72,614.8 798.72,613.9 799.05,613.9 799.38,613.9 799.38,609.8 799.70,609.8 800.15,609.8 800.15,613.5 800.60,613.5 801.05,613.5 801.05,614.8 801.50,614.8 801.82,614.8 801.82,615.7 802.13,615.7 802.45,615.7 802.45,613.8 802.77,613.8 803.08,613.8 803.08,616.0 803.40,616.0 803.80,616.0 803.80,614.7 804.20,614.7 804.60,614.7 804.60,614.5 805.00,614.5 805.45,614.5 805.45,616.5 805.90,616.5 806.35,616.5 806.35,621.6 806.80,621.6 807.22,621.6 807.22,618.2 807.65,618.2 808.08,618.2 808.08,614.5 808.50,614.5 808.95,614.5 808.95,611.9 809.40,611.9 809.85,611.9 809.85,608.7 810.30,608.7 810.57,608.7 810.57,610.7 810.85,610.7 811.12,610.7 811.12,615.7 811.40,615.7 811.70,615.7 811.70,616.0 812.00,616.0 812.30,616.0 812.30,620.2 812.60,620.2 812.90,620.2 812.90,620.4 813.20,620.4 813.65,620.4 813.65,614.6 814.10,614.6 814.55,614.6 814.55,613.4 815.00,613.4 815.42,613.4 815.42,614.3 815.85,614.3 816.28,614.3 816.28,612.2 816.70,612.2 817.15,612.2 817.15,614.2 817.60,614.2 818.05,614.2 818.05,612.2 818.50,612.2 818.92,612.2 818.92,616.8 819.35,616.8 819.78,616.8 819.78,616.9 820.20,616.9 820.65,616.9 820.65,615.1 821.10,615.1 821.55,615.1 821.55,614.5 822.00,614.5 822.45,614.5 822.45,616.5 822.90,616.5 823.35,616.5 823.35,618.0 823.80,618.0 824.22,618.0 824.22,616.7 824.65,616.7 825.08,616.7 825.08,614.5 825.50,614.5 825.95,614.5 825.95,617.5 826.40,617.5 826.85,617.5 826.85,619.2 827.30,619.2 827.72,619.2 827.72,618.1 828.15,618.1 828.58,618.1 828.58,612.2 829.00,612.2 829.45,612.2 829.45,615.5 829.90,615.5 830.35,615.5 830.35,616.9 830.80,616.9 831.22,616.9 831.22,618.8 831.65,618.8 832.08,618.8 832.08,622.7 832.50,622.7 832.95,622.7 832.95,620.4 833.40,620.4 833.85,620.4 833.85,614.5 834.30,614.5 834.60,614.5 834.60,612.1 834.90,612.1 835.20,612.1 835.20,610.3 835.50,610.3 835.80,610.3 835.80,607.5 836.10,607.5 836.38,607.5 836.38,607.5 836.65,607.5 836.93,607.5 836.93,605.2 837.20,605.2 837.50,605.2 837.50,606.2 837.80,606.2 838.10,606.2 838.10,612.2 838.40,612.2 838.70,612.2 838.70,615.1 839.00,615.1 839.30,615.1 839.30,616.1 839.60,616.1 839.90,616.1 839.90,616.9 840.20,616.9 840.62,616.9 840.62,612.2 841.05,612.2 841.47,612.2 841.47,607.5 841.90,607.5 842.20,607.5 842.20,608.8 842.50,608.8 842.80,608.8 842.80,609.6 843.10,609.6 843.40,609.6 843.40,611.0 843.70,611.0 844.12,611.0 844.12,606.6 844.55,606.6 844.97,606.6 844.97,605.2 845.40,605.2 845.70,605.2 845.70,605.7 846.00,605.7 846.30,605.7 846.30,603.6 846.60,603.6 846.90,603.6 846.90,606.3 847.20,606.3 847.50,606.3 847.50,611.0 847.80,611.0 848.10,611.0 848.10,615.7 848.40,615.7 848.83,615.7 848.83,611.2 849.25,611.2 849.67,611.2 849.67,605.2 850.10,605.2 850.55,605.2 850.55,604.3 851.00,604.3 851.45,604.3 851.45,604.0 851.90,604.0 852.17,604.0 852.17,610.8 852.45,610.8 852.73,610.8 852.73,616.9 853.00,616.9 853.30,616.9 853.30,621.5 853.60,621.5 853.90,621.5 853.90,621.6 854.20,621.6 854.50,621.6 854.50,617.7 854.80,617.7 855.10,617.7 855.10,609.8 855.40,609.8 855.70,609.8 855.70,609.5 856.00,609.5 856.30,609.5 856.30,614.4 856.60,614.4 856.90,614.4 856.90,614.5 857.20,614.5 857.62,614.5 857.62,615.7 858.05,615.7 858.47,615.7 858.47,615.7 858.90,615.7 859.20,615.7 859.20,607.6 859.50,607.6 859.80,607.6 859.80,604.0 860.10,604.0 860.53,604.0 860.53,603.9 860.95,603.9 861.38,603.9 861.38,605.2 861.80,605.2 862.10,605.2 862.10,605.8 862.40,605.8 862.70,605.8 862.70,607.0 863.00,607.0 863.30,607.0 863.30,611.0 863.60,611.0 864.05,611.0 864.05,613.5 864.50,613.5 864.95,613.5 864.95,615.7 865.40,615.7 865.83,615.7 865.83,616.7 866.25,616.7 866.67,616.7 866.67,613.4 867.10,613.4 867.55,613.4 867.55,614.3 868.00,614.3 868.45,614.3 868.45,616.9 868.90,616.9 869.33,616.9 869.33,617.6 869.75,617.6 870.17,617.6 870.17,614.5 870.60,614.5 871.05,614.5 871.05,619.0 871.50,619.0 871.95,619.0 871.95,621.6 872.40,621.6 872.83,621.6 872.83,615.7 873.25,615.7 873.67,615.7 873.67,613.4 874.10,613.4 874.55,613.4 874.55,613.4 875.00,613.4 875.45,613.4 875.45,609.8 875.90,609.8 876.20,609.8 876.20,609.9 876.50,609.9 876.80,609.9 876.80,611.2 877.10,611.2 877.40,611.2 877.40,608.7 877.70,608.7 877.98,608.7 877.98,615.0 878.25,615.0 878.52,615.0 878.52,619.2 878.80,619.2 879.10,619.2 879.10,618.5 879.40,618.5 879.70,618.5 879.70,614.6 880.00,614.6 880.30,614.6 880.30,613.4 880.60,613.4 880.90,613.4 880.90,612.0 881.20,612.0 881.50,612.0 881.50,607.5 881.80,607.5 882.22,607.5 882.22,611.4 882.65,611.4 883.08,611.4 883.08,611.0 883.50,611.0 883.80,611.0 883.80,617.5 884.10,617.5 884.40,617.5 884.40,620.4 884.70,620.4 885.00,620.4 885.00,615.4 885.30,615.4 885.60,615.4 885.60,611.0 885.90,611.0 886.33,611.0 886.33,613.5 886.75,613.5 887.17,613.5 887.17,613.4 887.60,613.4 888.05,613.4 888.05,617.4 888.50,617.4 888.95,617.4 888.95,621.6 889.40,621.6 889.83,621.6 889.83,617.3 890.25,617.3 890.67,617.3 890.67,616.9 891.10,616.9 891.55,616.9 891.55,617.0 892.00,617.0 892.45,617.0 892.45,621.6 892.90,621.6 893.33,621.6 893.33,615.9 893.75,615.9 894.17,615.9 894.17,614.5 894.60,614.5 895.05,614.5 895.05,617.1 895.50,617.1 895.95,617.1 895.95,622.7 896.40,622.7 896.70,622.7 896.70,617.9 897.00,617.9 897.30,617.9 897.30,616.5 897.60,616.5 897.90,616.5 897.90,613.4 898.20,613.4 898.62,613.4 898.62,613.2 899.05,613.2 899.47,613.2 899.47,611.0 899.90,611.0 900.20,611.0 900.20,612.0 900.50,612.0 900.80,612.0 900.80,612.2 901.10,612.2 901.40,612.2 901.40,613.4 901.70,613.4 902.00,613.4 902.00,609.4 902.30,609.4 902.60,609.4 902.60,604.0 902.90,604.0 903.17,604.0 903.17,608.3 903.45,608.3 903.73,608.3 903.73,614.5 904.00,614.5 904.45,614.5 904.45,616.1 904.90,616.1 905.35,616.1 905.35,618.0 905.80,618.0 906.10,618.0 906.10,615.8 906.40,615.8 906.70,615.8 906.70,611.0 907.00,611.0 907.42,611.0 907.42,611.7 907.85,611.7 908.28,611.7 908.28,613.4 908.70,613.4 909.15,613.4 909.15,613.6 909.60,613.6 910.05,613.6 910.05,616.9 910.50,616.9 910.92,616.9 910.92,617.7 911.35,617.7 911.78,617.7 911.78,614.5 912.20,614.5 912.65,614.5 912.65,615.0 913.10,615.0 913.55,615.0 913.55,613.4 914.00,613.4 914.42,613.4 914.42,612.1 914.85,612.1 915.28,612.1 915.28,612.2 915.70,612.2 916.00,612.2 916.00,612.2 916.30,612.2 916.60,612.2 916.60,613.4 916.90,613.4" fill="none" stroke="#000" stroke-width="2.2" stroke-linejoin="miter" stroke-miterlimit="2"/>
<polyline points="154.00,405.4 154.38,405.4 154.38,408.7 154.75,408.7 155.12,408.7 155.12,413.7 155.50,413.7 155.85,413.7 155.85,407.6 156.20,407.6 156.55,407.6 156.55,405.0 156.90,405.0 157.60,405.0 157.60,383.0 158.30,383.0 158.65,383.0 158.65,381.8 159.00,381.8 159.35,381.8 159.35,376.9 159.70,376.9 160.05,376.9 160.05,377.0 160.40,377.0 160.70,377.0 160.70,390.0 161.00,390.0 161.38,390.0 161.38,394.4 161.75,394.4 162.12,394.4 162.12,398.5 162.50,398.5 162.85,398.5 162.85,399.1 163.20,399.1 163.55,399.1 163.55,401.0 163.90,401.0 164.25,401.0 164.25,398.0 164.60,398.0 164.95,398.0 164.95,399.4 165.30,399.4 165.65,399.4 165.65,398.5 166.00,398.5 166.32,398.5 166.32,399.4 166.65,399.4 166.98,399.4 166.98,405.0 167.30,405.0 167.65,405.0 167.65,409.0 168.00,409.0 168.35,409.0 168.35,413.7 168.70,413.7 169.02,413.7 169.02,413.7 169.35,413.7 169.68,413.7 169.68,418.0 170.00,418.0 170.38,418.0 170.38,404.8 170.75,404.8 171.12,404.8 171.12,395.7 171.50,395.7 171.85,395.7 171.85,396.0 172.20,396.0 172.55,396.0 172.55,397.0 172.90,397.0 173.55,397.0 173.55,419.0 174.20,419.0 174.55,419.0 174.55,420.6 174.90,420.6 175.25,420.6 175.25,417.1 175.60,417.1 175.95,417.1 175.95,419.0 176.30,419.0 176.65,419.0 176.65,413.6 177.00,413.6 177.35,413.6 177.35,411.0 177.70,411.0 178.02,411.0 178.02,404.0 178.35,404.0 178.68,404.0 178.68,395.7 179.00,395.7 179.38,395.7 179.38,398.6 179.75,398.6 180.12,398.6 180.12,397.0 180.50,397.0 180.85,397.0 180.85,405.0 181.20,405.0 181.53,405.0 181.53,405.1 181.87,405.1 182.20,405.1 182.20,403.8 182.53,403.8 182.87,403.8 182.87,404.0 183.20,404.0 183.55,404.0 183.55,406.0 183.90,406.0 184.25,406.0 184.25,401.0 184.60,401.0 184.95,401.0 184.95,404.7 185.30,404.7 185.65,404.7 185.65,402.6 186.00,402.6 186.35,402.6 186.35,402.9 186.70,402.9 187.05,402.9 187.05,405.4 187.40,405.4 187.75,405.4 187.75,395.9 188.10,395.9 188.45,395.9 188.45,390.0 188.80,390.0 189.15,390.0 189.15,386.1 189.50,386.1 189.85,386.1 189.85,386.0 190.20,386.0 190.55,386.0 190.55,387.8 190.90,387.8 191.25,387.8 191.25,391.5 191.60,391.5 191.93,391.5 191.93,395.9 192.27,395.9 192.60,395.9 192.60,395.5 192.93,395.5 193.27,395.5 193.27,399.9 193.60,399.9 193.95,399.9 193.95,398.4 194.30,398.4 194.65,398.4 194.65,396.9 195.00,396.9 195.35,396.9 195.35,394.3 195.70,394.3 196.05,394.3 196.05,391.1 196.40,391.1 196.75,391.1 196.75,389.4 197.10,389.4 197.45,389.4 197.45,384.4 197.80,384.4 198.15,384.4 198.15,384.0 198.50,384.0 198.85,384.0 198.85,388.3 199.20,388.3 199.55,388.3 199.55,397.0 199.90,397.0 200.23,397.0 200.23,392.0 200.55,392.0 200.88,392.0 200.88,390.0 201.20,390.0 201.55,390.0 201.55,389.6 201.90,389.6 202.25,389.6 202.25,387.0 202.60,387.0 202.95,387.0 202.95,386.0 203.30,386.0 203.65,386.0 203.65,386.4 204.00,386.4 204.35,386.4 204.35,389.1 204.70,389.1 205.05,389.1 205.05,390.0 205.40,390.0 205.75,390.0 205.75,392.6 206.10,392.6 206.45,392.6 206.45,395.7 206.80,395.7 207.15,395.7 207.15,388.3 207.50,388.3 207.85,388.3 207.85,383.0 208.20,383.0 208.55,383.0 208.55,382.5 208.90,382.5 209.25,382.5 209.25,379.0 209.60,379.0 210.30,379.0 210.30,402.6 211.00,402.6 211.33,402.6 211.33,404.1 211.67,404.1 212.00,404.1 212.00,402.3 212.33,402.3 212.67,402.3 212.67,404.0 213.00,404.0 213.70,404.0 213.70,363.9 214.40,363.9 214.75,363.9 214.75,362.9 215.10,362.9 215.45,362.9 215.45,361.2 215.80,361.2 216.15,361.2 216.15,359.7 216.50,359.7 216.85,359.7 216.85,363.3 217.20,363.3 217.55,363.3 217.55,364.3 217.90,364.3 218.25,364.3 218.25,363.8 218.60,363.8 218.95,363.8 218.95,366.6 219.30,366.6 219.63,366.6 219.63,372.7 219.97,372.7 220.30,372.7 220.30,372.1 220.63,372.1 220.97,372.1 220.97,377.7 221.30,377.7 221.65,377.7 221.65,383.4 222.00,383.4 222.35,383.4 222.35,390.0 222.70,390.0 223.05,390.0 223.05,390.9 223.40,390.9 223.75,390.9 223.75,387.5 224.10,387.5 224.45,387.5 224.45,388.8 224.80,388.8 225.15,388.8 225.15,380.3 225.50,380.3 225.85,380.3 225.85,372.0 226.20,372.0 226.55,372.0 226.55,371.6 226.90,371.6 227.25,371.6 227.25,376.6 227.60,376.6 227.95,376.6 227.95,377.7 228.30,377.7 228.62,377.7 228.62,388.0 228.95,388.0 229.27,388.0 229.27,395.7 229.60,395.7 229.95,395.7 229.95,393.3 230.30,393.3 230.65,393.3 230.65,392.0 231.00,392.0 231.35,392.0 231.35,387.4 231.70,387.4 232.05,387.4 232.05,380.5 232.40,380.5 232.75,380.5 232.75,376.4 233.10,376.4 233.45,376.4 233.45,369.4 233.80,369.4 234.15,369.4 234.15,369.9 234.50,369.9 234.85,369.9 234.85,369.8 235.20,369.8 235.55,369.8 235.55,369.4 235.90,369.4 236.25,369.4 236.25,378.9 236.60,378.9 236.95,378.9 236.95,388.8 237.30,388.8 237.63,388.8 237.63,382.9 237.97,382.9 238.30,382.9 238.30,375.8 238.63,375.8 238.97,375.8 238.97,366.0 239.30,366.0 239.65,366.0 239.65,367.9 240.00,367.9 240.35,367.9 240.35,370.8 240.70,370.8 241.05,370.8 241.05,372.0 241.40,372.0 241.75,372.0 241.75,378.2 242.10,378.2 242.45,378.2 242.45,388.8 242.80,388.8 243.15,388.8 243.15,388.4 243.50,388.4 243.85,388.4 243.85,386.7 244.20,386.7 244.55,386.7 244.55,384.6 244.90,384.6 245.28,384.6 245.28,382.1 245.65,382.1 246.03,382.1 246.03,374.6 246.40,374.6 246.75,374.6 246.75,374.5 247.10,374.5 247.45,374.5 247.45,370.1 247.80,370.1 248.15,370.1 248.15,368.9 248.50,368.9 248.85,368.9 248.85,367.7 249.20,367.7 249.53,367.7 249.53,371.3 249.87,371.3 250.20,371.3 250.20,370.8 250.53,370.8 250.87,370.8 250.87,376.0 251.20,376.0 251.55,376.0 251.55,373.4 251.90,373.4 252.25,373.4 252.25,371.2 252.60,371.2 252.95,371.2 252.95,376.7 253.30,376.7 253.65,376.7 253.65,383.6 254.00,383.6 254.35,383.6 254.35,392.6 254.70,392.6 255.05,392.6 255.05,391.1 255.40,391.1 255.75,391.1 255.75,394.0 256.10,394.0 256.45,394.0 256.45,381.5 256.80,381.5 257.15,381.5 257.15,379.4 257.50,379.4 257.85,379.4 257.85,374.6 258.20,374.6 258.65,374.6 258.65,372.7 259.10,372.7 259.55,372.7 259.55,373.3 260.00,373.3 260.45,373.3 260.45,374.6 260.90,374.6 261.25,374.6 261.25,376.9 261.60,376.9 261.95,376.9 261.95,382.1 262.30,382.1 262.65,382.1 262.65,383.0 263.00,383.0 263.35,383.0 263.35,377.4 263.70,377.4 264.05,377.4 264.05,376.0 264.40,376.0 264.75,376.0 264.75,380.2 265.10,380.2 265.45,380.2 265.45,385.0 265.80,385.0 266.15,385.0 266.15,379.3 266.50,379.3 266.85,379.3 266.85,373.2 267.20,373.2 267.52,373.2 267.52,378.6 267.85,378.6 268.18,378.6 268.18,380.2 268.50,380.2 268.85,380.2 268.85,387.3 269.20,387.3 269.55,387.3 269.55,391.2 269.90,391.2 270.25,391.2 270.25,393.0 270.60,393.0 270.95,393.0 270.95,390.1 271.30,390.1 271.65,390.1 271.65,391.2 272.00,391.2 272.35,391.2 272.35,388.7 272.70,388.7 273.05,388.7 273.05,386.4 273.40,386.4 273.75,386.4 273.75,385.0 274.10,385.0 274.45,385.0 274.45,387.2 274.80,387.2 275.15,387.2 275.15,387.8 275.50,387.8 275.85,387.8 275.85,385.7 276.20,385.7 276.52,385.7 276.52,390.6 276.85,390.6 277.18,390.6 277.18,398.9 277.50,398.9 277.85,398.9 277.85,397.3 278.20,397.3 278.55,397.3 278.55,397.6 278.90,397.6 279.25,397.6 279.25,398.9 279.60,398.9 279.95,398.9 279.95,395.5 280.30,395.5 280.65,395.5 280.65,394.6 281.00,394.6 281.35,394.6 281.35,392.6 281.70,392.6 282.05,392.6 282.05,397.9 282.40,397.9 282.75,397.9 282.75,402.3 283.10,402.3 283.45,402.3 283.45,407.7 283.80,407.7 284.15,407.7 284.15,415.5 284.50,415.5 284.85,415.5 284.85,413.0 285.20,413.0 285.55,413.0 285.55,415.5 285.90,415.5 286.25,415.5 286.25,399.6 286.60,399.6 286.95,399.6 286.95,391.5 287.30,391.5 287.65,391.5 287.65,384.3 288.00,384.3 288.32,384.3 288.32,383.6 288.65,383.6 288.98,383.6 288.98,384.3 289.30,384.3 289.65,384.3 289.65,405.0 290.00,405.0 290.35,405.0 290.35,401.7 290.70,401.7 291.05,401.7 291.05,399.9 291.40,399.9 291.75,399.9 291.75,394.0 292.10,394.0 292.45,394.0 292.45,400.5 292.80,400.5 293.15,400.5 293.15,405.1 293.50,405.1 293.85,405.1 293.85,410.6 294.20,410.6 294.53,410.6 294.53,411.7 294.87,411.7 295.20,411.7 295.20,412.4 295.53,412.4 295.87,412.4 295.87,412.0 296.20,412.0 296.55,412.0 296.55,405.6 296.90,405.6 297.25,405.6 297.25,405.7 297.60,405.7 297.95,405.7 297.95,399.6 298.30,399.6 298.65,399.6 298.65,406.3 299.00,406.3 299.35,406.3 299.35,412.1 299.70,412.1 300.05,412.1 300.05,415.5 300.40,415.5 300.75,415.5 300.75,415.8 301.10,415.8 301.45,415.8 301.45,412.6 301.80,412.6 302.15,412.6 302.15,412.0 302.50,412.0 302.85,412.0 302.85,407.4 303.20,407.4 303.55,407.4 303.55,401.8 303.90,401.8 304.25,401.8 304.25,399.6 304.60,399.6 304.93,399.6 304.93,393.3 305.25,393.3 305.57,393.3 305.57,385.7 305.90,385.7 306.25,385.7 306.25,382.6 306.60,382.6 306.95,382.6 306.95,381.7 307.30,381.7 307.65,381.7 307.65,383.0 308.00,383.0 308.35,383.0 308.35,382.9 308.70,382.9 309.05,382.9 309.05,385.7 309.40,385.7 309.75,385.7 309.75,391.0 310.10,391.0 310.45,391.0 310.45,399.6 310.80,399.6 311.15,399.6 311.15,384.3 311.50,384.3 311.85,384.3 311.85,376.6 312.20,376.6 312.55,376.6 312.55,370.5 312.90,370.5 313.25,370.5 313.25,364.1 313.60,364.1 313.95,364.1 313.95,362.2 314.30,362.2 314.60,362.2 314.60,359.1 314.90,359.1 315.20,359.1 315.20,361.0 315.50,361.0 315.75,361.0 315.75,314.0 316.00,314.0 316.38,314.0 316.38,312.3 316.75,312.3 317.12,312.3 317.12,314.0 317.50,314.0 317.75,314.0 317.75,290.0 318.00,290.0 318.50,290.0 318.50,273.0 319.00,273.0 319.38,273.0 319.38,271.0 319.75,271.0 320.12,271.0 320.12,273.0 320.50,273.0 320.75,273.0 320.75,300.0 321.00,300.0 321.25,300.0 321.25,314.0 321.50,314.0 322.00,314.0 322.00,350.0 322.50,350.0 322.88,350.0 322.88,357.5 323.25,357.5 323.62,357.5 323.62,366.3 324.00,366.3 324.45,366.3 324.45,363.9 324.90,363.9 325.35,363.9 325.35,368.2 325.80,368.2 326.25,368.2 326.25,366.3 326.70,366.3 327.05,366.3 327.05,360.7 327.40,360.7 327.75,360.7 327.75,353.9 328.10,353.9 328.45,353.9 328.45,350.0 328.80,350.0 329.15,350.0 329.15,348.5 329.50,348.5 329.85,348.5 329.85,347.6 330.20,347.6 330.55,347.6 330.55,353.4 330.90,353.4 331.25,353.4 331.25,360.8 331.60,360.8 331.93,360.8 331.93,366.6 332.27,366.6 332.60,366.6 332.60,371.8 332.93,371.8 333.27,371.8 333.27,380.2 333.60,380.2 333.95,380.2 333.95,382.9 334.30,382.9 334.65,382.9 334.65,384.5 335.00,384.5 335.35,384.5 335.35,383.0 335.70,383.0 336.05,383.0 336.05,380.5 336.40,380.5 336.75,380.5 336.75,378.3 337.10,378.3 337.45,378.3 337.45,376.0 337.80,376.0 338.15,376.0 338.15,375.8 338.50,375.8 338.85,375.8 338.85,377.7 339.20,377.7 339.55,377.7 339.55,381.5 339.90,381.5 340.23,381.5 340.23,385.6 340.57,385.6 340.90,385.6 340.90,390.2 341.23,390.2 341.57,390.2 341.57,396.3 341.90,396.3 342.23,396.3 342.23,394.7 342.57,394.7 342.90,394.7 342.90,388.2 343.23,388.2 343.57,388.2 343.57,386.7 343.90,386.7 344.22,386.7 344.22,384.9 344.53,384.9 344.85,384.9 344.85,390.2 345.17,390.2 345.48,390.2 345.48,388.6 345.80,388.6 346.13,388.6 346.13,391.3 346.47,391.3 346.80,391.3 346.80,392.0 347.13,392.0 347.47,392.0 347.47,396.3 347.80,396.3 348.25,396.3 348.25,413.8 348.70,413.8 349.03,413.8 349.03,408.2 349.37,408.2 349.70,408.2 349.70,399.8 350.03,399.8 350.37,399.8 350.37,396.3 350.70,396.3 350.92,396.3 350.92,389.7 351.15,389.7 351.38,389.7 351.38,382.8 351.60,382.8 351.96,382.8 351.96,385.2 352.33,385.2 352.69,385.2 352.69,384.6 353.05,384.6 353.41,384.6 353.41,383.8 353.77,383.8 354.14,383.8 354.14,382.8 354.50,382.8 354.83,382.8 354.83,387.4 355.17,387.4 355.50,387.4 355.50,393.7 355.83,393.7 356.17,393.7 356.17,400.2 356.50,400.2 356.75,400.2 356.75,403.4 357.00,403.4 357.25,403.4 357.25,409.9 357.50,409.9 357.82,409.9 357.82,406.7 358.13,406.7 358.45,406.7 358.45,401.0 358.77,401.0 359.08,401.0 359.08,396.3 359.40,396.3 359.76,396.3 359.76,396.7 360.12,396.7 360.49,396.7 360.49,393.5 360.85,393.5 361.21,393.5 361.21,392.1 361.57,392.1 361.94,392.1 361.94,392.5 362.30,392.5 362.66,392.5 362.66,392.6 363.02,392.6 363.39,392.6 363.39,392.0 363.75,392.0 364.11,392.0 364.11,389.9 364.48,389.9 364.84,389.9 364.84,386.7 365.20,386.7 365.56,386.7 365.56,387.7 365.93,387.7 366.29,387.7 366.29,387.3 366.65,387.3 367.01,387.3 367.01,386.4 367.38,386.4 367.74,386.4 367.74,384.7 368.10,384.7 368.42,384.7 368.42,380.1 368.73,380.1 369.05,380.1 369.05,378.3 369.37,378.3 369.68,378.3 369.68,375.0 370.00,375.0 370.25,375.0 370.25,367.5 370.50,367.5 370.75,367.5 370.75,361.4 371.00,361.4 371.25,361.4 371.25,352.3 371.50,352.3 371.75,352.3 371.75,347.9 372.00,347.9 372.32,347.9 372.32,338.4 372.63,338.4 372.95,338.4 372.95,332.5 373.27,332.5 373.58,332.5 373.58,326.5 373.90,326.5 374.40,326.5 374.40,297.5 374.90,297.5 375.22,297.5 375.22,294.3 375.53,294.3 375.85,294.3 375.85,294.5 376.17,294.5 376.48,294.5 376.48,291.6 376.80,291.6 377.05,291.6 377.05,300.7 377.30,300.7 377.55,300.7 377.55,305.2 377.80,305.2 378.30,305.2 378.30,326.5 378.80,326.5 379.30,326.5 379.30,353.7 379.80,353.7 380.12,353.7 380.12,356.0 380.43,356.0 380.75,356.0 380.75,361.0 381.07,361.0 381.38,361.0 381.38,361.4 381.70,361.4 382.02,361.4 382.02,361.9 382.33,361.9 382.65,361.9 382.65,359.8 382.97,359.8 383.28,359.8 383.28,355.6 383.60,355.6 384.60,355.6 384.60,320.7 385.60,320.7 386.05,320.7 386.05,280.0 386.50,280.0 386.55,280.0 386.55,223.0 386.60,223.0 386.95,223.0 386.95,221.8 387.30,221.8 387.65,221.8 387.65,222.0 388.00,222.0 388.00,222.0 388.00,85.0 388.00,85.0 388.65,85.0 388.65,84.0 389.30,84.0 389.40,84.0 389.40,58.5 389.50,58.5 391.00,58.5 391.00,58.5 392.50,58.5 392.65,58.5 392.65,183.0 392.80,183.0 393.18,183.0 393.18,182.1 393.55,182.1 393.93,182.1 393.93,184.0 394.30,184.0 394.40,184.0 394.40,290.0 394.50,290.0 394.93,290.0 394.93,296.2 395.35,296.2 395.77,296.2 395.77,305.2 396.20,305.2 396.70,305.2 396.70,347.9 397.20,347.9 398.15,347.9 398.15,377.0 399.10,377.0 399.46,377.0 399.46,376.2 399.83,376.2 400.19,376.2 400.19,377.0 400.55,377.0 400.91,377.0 400.91,379.8 401.27,379.8 401.64,379.8 401.64,379.9 402.00,379.9 402.38,379.9 402.38,383.1 402.75,383.1 403.12,383.1 403.12,384.0 403.50,384.0 403.88,384.0 403.88,383.4 404.25,383.4 404.62,383.4 404.62,384.7 405.00,384.7 405.32,384.7 405.32,389.3 405.63,389.3 405.95,389.3 405.95,393.9 406.27,393.9 406.58,393.9 406.58,396.3 406.90,396.3 407.22,396.3 407.22,387.8 407.53,387.8 407.85,387.8 407.85,384.2 408.17,384.2 408.48,384.2 408.48,377.0 408.80,377.0 409.13,377.0 409.13,375.1 409.47,375.1 409.80,375.1 409.80,370.6 410.13,370.6 410.47,370.6 410.47,365.3 410.80,365.3 411.12,365.3 411.12,363.0 411.43,363.0 411.75,363.0 411.75,358.1 412.07,358.1 412.38,358.1 412.38,354.7 412.70,354.7 413.03,354.7 413.03,358.6 413.37,358.6 413.70,358.6 413.70,367.1 414.03,367.1 414.37,367.1 414.37,371.1 414.70,371.1 415.05,371.1 415.05,371.8 415.40,371.8 415.75,371.8 415.75,375.7 416.10,375.7 416.45,375.7 416.45,378.0 416.80,378.0 417.15,378.0 417.15,377.2 417.50,377.2 418.10,377.2 418.10,402.1 418.70,402.1 419.12,402.1 419.12,399.1 419.53,399.1 419.95,399.1 419.95,396.6 420.37,396.6 420.78,396.6 420.78,394.6 421.20,394.6 421.62,394.6 421.62,395.2 422.03,395.2 422.45,395.2 422.45,392.4 422.87,392.4 423.28,392.4 423.28,389.6 423.70,389.6 424.12,389.6 424.12,387.2 424.53,387.2 424.95,387.2 424.95,386.1 425.37,386.1 425.78,386.1 425.78,387.2 426.20,387.2 426.62,387.2 426.62,385.0 427.03,385.0 427.45,385.0 427.45,388.4 427.87,388.4 428.28,388.4 428.28,385.9 428.70,385.9 429.12,385.9 429.12,391.2 429.53,391.2 429.95,391.2 429.95,391.6 430.37,391.6 430.78,391.6 430.78,397.1 431.20,397.1 432.10,397.1 432.10,367.2 433.00,367.2 433.33,367.2 433.33,365.5 433.67,365.5 434.00,365.5 434.00,362.9 434.33,362.9 434.67,362.9 434.67,357.2 435.00,357.2 435.60,357.2 435.60,334.8 436.20,334.8 436.80,334.8 436.80,309.9 437.40,309.9 437.72,309.9 437.72,301.9 438.05,301.9 438.38,301.9 438.38,292.4 438.70,292.4 439.05,292.4 439.05,277.5 439.40,277.5 439.72,277.5 439.72,277.4 440.05,277.4 440.38,277.4 440.38,278.7 440.70,278.7 441.30,278.7 441.30,304.9 441.90,304.9 442.80,304.9 442.80,332.3 443.70,332.3 444.12,332.3 444.12,344.2 444.53,344.2 444.95,344.2 444.95,353.7 445.37,353.7 445.78,353.7 445.78,367.2 446.20,367.2 446.80,367.2 446.80,387.1 447.40,387.1 447.73,387.1 447.73,385.5 448.07,385.5 448.40,385.5 448.40,391.1 448.73,391.1 449.07,391.1 449.07,389.6 449.40,389.6 449.70,389.6 449.70,397.0 450.00,397.0 450.30,397.0 450.30,403.1 450.60,403.1 450.90,403.1 450.90,409.6 451.20,409.6 451.60,409.6 451.60,410.9 452.00,410.9 452.40,410.9 452.40,407.6 452.80,407.6 453.20,407.6 453.20,407.1 453.60,407.1 454.02,407.1 454.02,411.5 454.43,411.5 454.85,411.5 454.85,413.7 455.27,413.7 455.68,413.7 455.68,414.6 456.10,414.6 456.52,414.6 456.52,411.5 456.93,411.5 457.35,411.5 457.35,410.0 457.77,410.0 458.18,410.0 458.18,409.6 458.60,409.6 459.02,409.6 459.02,411.1 459.43,411.1 459.85,411.1 459.85,413.3 460.27,413.3 460.68,413.3 460.68,417.1 461.10,417.1 461.52,417.1 461.52,415.0 461.93,415.0 462.35,415.0 462.35,410.9 462.77,410.9 463.18,410.9 463.18,409.6 463.60,409.6 464.02,409.6 464.02,411.7 464.43,411.7 464.85,411.7 464.85,412.8 465.27,412.8 465.68,412.8 465.68,417.1 466.10,417.1 466.52,417.1 466.52,417.5 466.93,417.5 467.35,417.5 467.35,413.0 467.77,413.0 468.18,413.0 468.18,412.1 468.60,412.1 469.02,412.1 469.02,415.2 469.43,415.2 469.85,415.2 469.85,419.2 470.27,419.2 470.68,419.2 470.68,422.1 471.10,422.1 471.52,422.1 471.52,427.4 471.93,427.4 472.35,427.4 472.35,428.3 472.77,428.3 473.18,428.3 473.18,432.0 473.60,432.0 474.02,432.0 474.02,430.8 474.43,430.8 474.85,430.8 474.85,425.4 475.27,425.4 475.68,425.4 475.68,422.1 476.10,422.1 476.52,422.1 476.52,420.6 476.93,420.6 477.35,420.6 477.35,418.9 477.77,418.9 478.18,418.9 478.18,417.1 478.60,417.1 479.02,417.1 479.02,415.5 479.43,415.5 479.85,415.5 479.85,418.5 480.27,418.5 480.68,418.5 480.68,419.6 481.10,419.6 481.52,419.6 481.52,414.7 481.93,414.7 482.35,414.7 482.35,410.5 482.77,410.5 483.18,410.5 483.18,409.6 483.60,409.6 484.02,409.6 484.02,411.1 484.43,411.1 484.85,411.1 484.85,408.0 485.27,408.0 485.68,408.0 485.68,409.6 486.10,409.6 486.50,409.6 486.50,400.3 486.90,400.3 487.30,400.3 487.30,392.5 487.70,392.5 488.10,392.5 488.10,382.2 488.50,382.2 488.80,382.2 488.80,375.0 489.10,375.0 489.40,375.0 489.40,366.3 489.70,366.3 490.00,366.3 490.00,359.7 490.30,359.7 490.68,359.7 490.68,348.6 491.05,348.6 491.43,348.6 491.43,337.3 491.80,337.3 492.23,337.3 492.23,338.8 492.65,338.8 493.07,338.8 493.07,339.8 493.50,339.8 494.15,339.8 494.15,359.7 494.80,359.7 495.10,359.7 495.10,369.9 495.40,369.9 495.70,369.9 495.70,377.2 496.00,377.2 496.65,377.2 496.65,397.1 497.30,397.1 497.72,397.1 497.72,399.3 498.13,399.3 498.55,399.3 498.55,405.7 498.97,405.7 499.38,405.7 499.38,409.6 499.80,409.6 500.22,409.6 500.22,410.0 500.63,410.0 501.05,410.0 501.05,411.8 501.47,411.8 501.88,411.8 501.88,414.6 502.30,414.6 502.60,414.6 502.60,422.2 502.90,422.2 503.20,422.2 503.20,427.0 503.50,427.0 503.92,427.0 503.92,424.6 504.33,424.6 504.75,424.6 504.75,422.4 505.17,422.4 505.58,422.4 505.58,419.6 506.00,419.6 506.42,419.6 506.42,419.2 506.83,419.2 507.25,419.2 507.25,418.3 507.67,418.3 508.08,418.3 508.08,414.6 508.50,414.6 508.80,414.6 508.80,419.3 509.10,419.3 509.40,419.3 509.40,424.5 509.70,424.5 510.05,424.5 510.05,427.4 510.40,427.4 510.75,427.4 510.75,429.2 511.10,429.2 511.45,429.2 511.45,431.5 511.80,431.5 512.65,431.5 512.65,405.7 513.50,405.7 513.95,405.7 513.95,405.8 514.40,405.8 514.85,405.8 514.85,405.7 515.30,405.7 515.57,405.7 515.57,413.7 515.85,413.7 516.12,413.7 516.12,419.8 516.40,419.8 516.80,419.8 516.80,420.0 517.20,420.0 517.60,420.0 517.60,420.8 518.00,420.8 518.40,420.8 518.40,421.0 518.80,421.0 519.22,421.0 519.22,420.3 519.65,420.3 520.08,420.3 520.08,419.8 520.50,419.8 520.95,419.8 520.95,419.1 521.40,419.1 521.85,419.1 521.85,413.9 522.30,413.9 522.60,413.9 522.60,415.1 522.90,415.1 523.20,415.1 523.20,416.2 523.50,416.2 523.80,416.2 523.80,414.5 524.10,414.5 524.53,414.5 524.53,420.0 524.95,420.0 525.38,420.0 525.38,421.0 525.80,421.0 526.20,421.0 526.20,418.2 526.60,418.2 527.00,418.2 527.00,418.2 527.40,418.2 527.80,418.2 527.80,416.3 528.20,416.3 528.62,416.3 528.62,419.7 529.05,419.7 529.47,419.7 529.47,418.6 529.90,418.6 530.20,418.6 530.20,422.3 530.50,422.3 530.80,422.3 530.80,420.7 531.10,420.7 531.40,420.7 531.40,424.5 531.70,424.5 532.12,424.5 532.12,426.1 532.55,426.1 532.97,426.1 532.97,431.5 533.40,431.5 534.00,431.5 534.00,412.7 534.60,412.7 535.05,412.7 535.05,415.4 535.50,415.4 535.95,415.4 535.95,418.6 536.40,418.6 536.83,418.6 536.83,414.1 537.25,414.1 537.67,414.1 537.67,413.9 538.10,413.9 538.55,413.9 538.55,412.0 539.00,412.0 539.45,412.0 539.45,412.7 539.90,412.7 540.33,412.7 540.33,411.8 540.75,411.8 541.17,411.8 541.17,415.1 541.60,415.1 542.00,415.1 542.00,417.9 542.40,417.9 542.80,417.9 542.80,420.5 543.20,420.5 543.60,420.5 543.60,421.0 544.00,421.0 544.42,421.0 544.42,420.0 544.85,420.0 545.28,420.0 545.28,415.1 545.70,415.1 546.15,415.1 546.15,413.4 546.60,413.4 547.05,413.4 547.05,415.1 547.50,415.1 547.88,415.1 547.88,415.4 548.27,415.4 548.65,415.4 548.65,414.3 549.03,414.3 549.42,414.3 549.42,412.7 549.80,412.7 550.10,412.7 550.10,415.2 550.40,415.2 550.70,415.2 550.70,423.2 551.00,423.2 551.30,423.2 551.30,425.6 551.60,425.6 551.98,425.6 551.98,424.4 552.37,424.4 552.75,424.4 552.75,417.2 553.13,417.2 553.52,417.2 553.52,415.1 553.90,415.1 554.30,415.1 554.30,417.0 554.70,417.0 555.10,417.0 555.10,413.8 555.50,413.8 555.90,413.8 555.90,413.9 556.30,413.9 556.72,413.9 556.72,417.4 557.15,417.4 557.58,417.4 557.58,421.0 558.00,421.0 558.45,421.0 558.45,425.7 558.90,425.7 559.35,425.7 559.35,425.6 559.80,425.6 560.10,425.6 560.10,424.2 560.40,424.2 560.70,424.2 560.70,417.7 561.00,417.7 561.30,417.7 561.30,416.3 561.60,416.3 561.98,416.3 561.98,418.3 562.37,418.3 562.75,418.3 562.75,421.0 563.13,421.0 563.52,421.0 563.52,423.3 563.90,423.3 564.30,423.3 564.30,420.5 564.70,420.5 565.10,420.5 565.10,417.8 565.50,417.8 565.90,417.8 565.90,417.4 566.30,417.4 566.68,417.4 566.68,418.9 567.07,418.9 567.45,418.9 567.45,423.2 567.83,423.2 568.22,423.2 568.22,424.5 568.60,424.5 568.98,424.5 568.98,419.4 569.37,419.4 569.75,419.4 569.75,419.3 570.13,419.3 570.52,419.3 570.52,416.3 570.90,416.3 571.30,416.3 571.30,416.0 571.70,416.0 572.10,416.0 572.10,413.9 572.50,413.9 572.90,413.9 572.90,416.3 573.30,416.3 573.68,416.3 573.68,416.6 574.07,416.6 574.45,416.6 574.45,419.3 574.83,419.3 575.22,419.3 575.22,419.8 575.60,419.8 576.00,419.8 576.00,420.3 576.40,420.3 576.80,420.3 576.80,418.4 577.20,418.4 577.60,418.4 577.60,421.0 578.00,421.0 578.38,421.0 578.38,422.6 578.77,422.6 579.15,422.6 579.15,420.8 579.53,420.8 579.92,420.8 579.92,418.6 580.30,418.6 580.70,418.6 580.70,419.8 581.10,419.8 581.50,419.8 581.50,414.3 581.90,414.3 582.30,414.3 582.30,415.1 582.70,415.1 583.12,415.1 583.12,409.2 583.55,409.2 583.97,409.2 583.97,405.7 584.40,405.7 584.70,405.7 584.70,409.8 585.00,409.8 585.30,409.8 585.30,418.6 585.60,418.6 586.03,418.6 586.03,425.8 586.45,425.8 586.88,425.8 586.88,430.3 587.30,430.3 587.60,430.3 587.60,424.9 587.90,424.9 588.20,424.9 588.20,419.8 588.50,419.8 588.80,419.8 588.80,417.4 589.10,417.4 589.55,417.4 589.55,415.9 590.00,415.9 590.45,415.9 590.45,415.1 590.90,415.1 591.33,415.1 591.33,414.8 591.75,414.8 592.17,414.8 592.17,410.4 592.60,410.4 592.90,410.4 592.90,411.4 593.20,411.4 593.50,411.4 593.50,409.2 593.80,409.2 594.22,409.2 594.22,416.8 594.65,416.8 595.08,416.8 595.08,426.8 595.50,426.8 595.95,426.8 595.95,420.9 596.40,420.9 596.85,420.9 596.85,418.6 597.30,418.6 597.60,418.6 597.60,417.6 597.90,417.6 598.20,417.6 598.20,412.7 598.50,412.7 598.80,412.7 598.80,409.2 599.10,409.2 599.53,409.2 599.53,409.1 599.95,409.1 600.38,409.1 600.38,406.9 600.80,406.9 601.20,406.9 601.20,405.6 601.60,405.6 602.00,405.6 602.00,406.2 602.40,406.2 602.80,406.2 602.80,409.2 603.20,409.2 603.62,409.2 603.62,413.1 604.05,413.1 604.47,413.1 604.47,415.1 604.90,415.1 605.30,415.1 605.30,415.1 605.70,415.1 606.10,415.1 606.10,413.8 606.50,413.8 606.90,413.8 606.90,416.3 607.30,416.3 607.72,416.3 607.72,423.7 608.15,423.7 608.58,423.7 608.58,426.8 609.00,426.8 609.45,426.8 609.45,422.2 609.90,422.2 610.35,422.2 610.35,416.3 610.80,416.3 611.22,416.3 611.22,421.9 611.65,421.9 612.08,421.9 612.08,424.5 612.50,424.5 612.95,424.5 612.95,418.9 613.40,418.9 613.85,418.9 613.85,417.4 614.30,417.4 614.60,417.4 614.60,417.6 614.90,417.6 615.20,417.6 615.20,412.1 615.50,412.1 615.80,412.1 615.80,412.7 616.10,412.7 616.53,412.7 616.53,416.3 616.95,416.3 617.38,416.3 617.38,416.3 617.80,416.3 618.10,416.3 618.10,416.8 618.40,416.8 618.70,416.8 618.70,417.0 619.00,417.0 619.30,417.0 619.30,418.6 619.60,418.6 619.88,418.6 619.88,422.1 620.15,422.1 620.43,422.1 620.43,425.0 620.70,425.0 621.05,425.0 621.05,428.2 621.40,428.2 621.75,428.2 621.75,427.1 622.10,427.1 622.45,427.1 622.45,419.7 622.80,419.7 623.15,419.7 623.15,412.8 623.50,412.8 623.85,412.8 623.85,408.4 624.20,408.4 624.53,408.4 624.53,409.2 624.87,409.2 625.20,409.2 625.20,408.5 625.53,408.5 625.87,408.5 625.87,410.5 626.20,410.5 626.55,410.5 626.55,404.4 626.90,404.4 627.25,404.4 627.25,400.5 627.60,400.5 627.95,400.5 627.95,398.0 628.30,398.0 628.65,398.0 628.65,392.3 629.00,392.3 629.35,392.3 629.35,389.6 629.70,389.6 630.05,389.6 630.05,387.7 630.40,387.7 630.80,387.7 630.80,381.6 631.20,381.6 631.60,381.6 631.60,377.3 632.00,377.3 632.38,377.3 632.38,377.3 632.75,377.3 633.12,377.3 633.12,379.3 633.50,379.3 633.88,379.3 633.88,387.9 634.25,387.9 634.62,387.9 634.62,393.9 635.00,393.9 635.40,393.9 635.40,401.1 635.80,401.1 636.20,401.1 636.20,410.5 636.60,410.5 636.95,410.5 636.95,411.9 637.30,411.9 637.65,411.9 637.65,411.7 638.00,411.7 638.35,411.7 638.35,414.7 638.70,414.7 639.05,414.7 639.05,416.0 639.40,416.0 639.75,416.0 639.75,416.4 640.10,416.4 640.45,416.4 640.45,420.9 640.80,420.9 641.15,420.9 641.15,420.4 641.50,420.4 641.85,420.4 641.85,419.9 642.20,419.9 642.55,419.9 642.55,423.0 642.90,423.0 643.23,423.0 643.23,421.4 643.57,421.4 643.90,421.4 643.90,417.7 644.23,417.7 644.57,417.7 644.57,414.7 644.90,414.7 645.29,414.7 645.29,412.6 645.67,412.6 646.06,412.6 646.06,413.5 646.45,413.5 646.84,413.5 646.84,415.3 647.23,415.3 647.61,415.3 647.61,412.6 648.00,412.6 648.35,412.6 648.35,414.8 648.70,414.8 649.05,414.8 649.05,422.5 649.40,422.5 649.75,422.5 649.75,425.0 650.10,425.0 650.45,425.0 650.45,421.9 650.80,421.9 651.15,421.9 651.15,419.4 651.50,419.4 651.85,419.4 651.85,416.7 652.20,416.7 652.55,416.7 652.55,420.5 652.90,420.5 653.25,420.5 653.25,420.4 653.60,420.4 653.95,420.4 653.95,423.0 654.30,423.0 654.65,423.0 654.65,423.7 655.00,423.7 655.35,423.7 655.35,425.3 655.70,425.3 656.05,425.3 656.05,425.0 656.40,425.0 656.73,425.0 656.73,422.6 657.07,422.6 657.40,422.6 657.40,414.5 657.73,414.5 658.07,414.5 658.07,410.5 658.40,410.5 658.75,410.5 658.75,417.0 659.10,417.0 659.45,417.0 659.45,421.2 659.80,421.2 660.15,421.2 660.15,425.0 660.50,425.0 660.85,425.0 660.85,420.8 661.20,420.8 661.55,420.8 661.55,414.9 661.90,414.9 662.25,414.9 662.25,410.5 662.60,410.5 662.95,410.5 662.95,412.5 663.30,412.5 663.65,412.5 663.65,413.8 664.00,413.8 664.35,413.8 664.35,418.8 664.70,418.8 665.03,418.8 665.03,415.6 665.37,415.6 665.70,415.6 665.70,413.9 666.03,413.9 666.37,413.9 666.37,414.7 666.70,414.7 667.05,414.7 667.05,418.0 667.40,418.0 667.75,418.0 667.75,417.6 668.10,417.6 668.45,417.6 668.45,420.9 668.80,420.9 669.15,420.9 669.15,415.7 669.50,415.7 669.85,415.7 669.85,411.9 670.20,411.9 670.55,411.9 670.55,410.5 670.90,410.5 671.25,410.5 671.25,403.9 671.60,403.9 671.95,403.9 671.95,395.8 672.30,395.8 672.65,395.8 672.65,385.6 673.00,385.6 673.35,385.6 673.35,378.2 673.70,378.2 674.05,378.2 674.05,369.0 674.40,369.0 674.72,369.0 674.72,358.6 675.05,358.6 675.38,358.6 675.38,350.3 675.70,350.3 676.20,350.3 676.20,321.2 676.70,321.2 677.25,321.2 677.25,300.4 677.80,300.4 678.13,300.4 678.13,299.1 678.47,299.1 678.80,299.1 678.80,299.4 679.13,299.4 679.47,299.4 679.47,300.4 679.80,300.4 680.07,300.4 680.07,307.4 680.35,307.4 680.62,307.4 680.62,314.9 680.90,314.9 681.25,314.9 681.25,321.5 681.60,321.5 681.95,321.5 681.95,331.6 682.30,331.6 682.85,331.6 682.85,360.6 683.40,360.6 684.10,360.6 684.10,387.7 684.80,387.7 685.22,387.7 685.22,396.8 685.65,396.8 686.08,396.8 686.08,406.4 686.50,406.4 686.85,406.4 686.85,408.0 687.20,408.0 687.55,408.0 687.55,414.2 687.90,414.2 688.25,414.2 688.25,414.7 688.60,414.7 688.99,414.7 688.99,417.1 689.38,417.1 689.76,417.1 689.76,414.9 690.15,414.9 690.54,414.9 690.54,413.4 690.93,413.4 691.31,413.4 691.31,414.7 691.70,414.7 692.05,414.7 692.05,418.4 692.40,418.4 692.75,418.4 692.75,416.5 693.10,416.5 693.45,416.5 693.45,418.8 693.80,418.8 694.13,418.8 694.13,419.5 694.47,419.5 694.80,419.5 694.80,419.1 695.13,419.1 695.47,419.1 695.47,423.0 695.80,423.0 696.15,423.0 696.15,418.9 696.50,418.9 696.85,418.9 696.85,415.9 697.20,415.9 697.55,415.9 697.55,412.6 697.90,412.6 698.25,412.6 698.25,416.7 698.60,416.7 698.95,416.7 698.95,419.4 699.30,419.4 699.65,419.4 699.65,425.0 700.00,425.0 700.35,425.0 700.35,421.6 700.70,421.6 701.05,421.6 701.05,415.7 701.40,415.7 701.75,415.7 701.75,414.7 702.10,414.7 702.43,414.7 702.43,412.1 702.77,412.1 703.10,412.1 703.10,409.8 703.43,409.8 703.77,409.8 703.77,410.5 704.10,410.5 704.45,410.5 704.45,414.8 704.80,414.8 705.15,414.8 705.15,417.9 705.50,417.9 705.85,417.9 705.85,425.0 706.20,425.0 706.55,425.0 706.55,421.2 706.90,421.2 707.25,421.2 707.25,421.3 707.60,421.3 707.95,421.3 707.95,420.9 708.30,420.9 708.65,420.9 708.65,421.6 709.00,421.6 709.35,421.6 709.35,425.5 709.70,425.5 710.05,425.5 710.05,427.1 710.40,427.1 710.79,427.1 710.79,425.7 711.17,425.7 711.56,425.7 711.56,425.3 711.95,425.3 712.34,425.3 712.34,423.2 712.73,423.2 713.11,423.2 713.11,420.9 713.50,420.9 713.88,420.9 713.88,423.4 714.25,423.4 714.62,423.4 714.62,423.7 715.00,423.7 715.43,423.7 715.43,421.2 715.87,421.2 716.30,421.2 716.30,414.3 716.73,414.3 717.17,414.3 717.17,410.5 717.60,410.5 718.05,410.5 718.05,414.9 718.50,414.9 718.95,414.9 718.95,423.5 719.40,423.5 719.85,423.5 719.85,426.3 720.30,426.3 720.73,426.3 720.73,421.9 721.17,421.9 721.60,421.9 721.60,422.2 722.03,422.2 722.47,422.2 722.47,418.4 722.90,418.4 723.33,418.4 723.33,420.0 723.77,420.0 724.20,420.0 724.20,417.9 724.63,417.9 725.07,417.9 725.07,421.0 725.50,421.0 725.84,421.0 725.84,422.0 726.17,422.0 726.51,422.0 726.51,421.7 726.85,421.7 727.19,421.7 727.19,419.7 727.53,419.7 727.86,419.7 727.86,418.4 728.20,418.4 728.63,418.4 728.63,420.4 729.07,420.4 729.50,420.4 729.50,421.7 729.93,421.7 730.37,421.7 730.37,421.0 730.80,421.0 731.23,421.0 731.23,416.6 731.67,416.6 732.10,416.6 732.10,415.9 732.53,415.9 732.97,415.9 732.97,413.2 733.40,413.2 733.74,413.2 733.74,415.2 734.08,415.2 734.41,415.2 734.41,418.8 734.75,418.8 735.09,418.8 735.09,420.6 735.42,420.6 735.76,420.6 735.76,421.0 736.10,421.0 736.53,421.0 736.53,424.0 736.97,424.0 737.40,424.0 737.40,424.1 737.83,424.1 738.27,424.1 738.27,425.0 738.70,425.0 739.13,425.0 739.13,425.6 739.57,425.6 740.00,425.6 740.00,423.2 740.43,423.2 740.87,423.2 740.87,421.0 741.30,421.0 741.73,421.0 741.73,418.5 742.17,418.5 742.60,418.5 742.60,412.6 743.03,412.6 743.47,412.6 743.47,410.5 743.90,410.5 744.24,410.5 744.24,405.5 744.58,405.5 744.91,405.5 744.91,403.4 745.25,403.4 745.59,403.4 745.59,401.9 745.92,401.9 746.26,401.9 746.26,400.0 746.60,400.0 747.25,400.0 747.25,378.9 747.90,378.9 748.55,378.9 748.55,344.7 749.20,344.7 750.15,344.7 750.15,294.7 751.10,294.7 751.85,294.7 751.85,260.5 752.60,260.5 752.92,260.5 752.92,257.7 753.23,257.7 753.55,257.7 753.55,260.4 753.87,260.4 754.18,260.4 754.18,257.9 754.50,257.9 754.83,257.9 754.83,266.1 755.15,266.1 755.47,266.1 755.47,273.7 755.80,273.7 756.45,273.7 756.45,321.0 757.10,321.0 757.75,321.0 757.75,368.4 758.40,368.4 758.74,368.4 758.74,373.6 759.08,373.6 759.41,373.6 759.41,378.2 759.75,378.2 760.09,378.2 760.09,383.1 760.42,383.1 760.76,383.1 760.76,386.8 761.10,386.8 761.75,386.8 761.75,407.9 762.40,407.9 762.72,407.9 762.72,411.8 763.05,411.8 763.38,411.8 763.38,415.8 763.70,415.8 764.13,415.8 764.13,412.4 764.57,412.4 765.00,412.4 765.00,415.6 765.43,415.6 765.87,415.6 765.87,413.2 766.30,413.2 766.73,413.2 766.73,416.2 767.17,416.2 767.60,416.2 767.60,416.7 768.03,416.7 768.47,416.7 768.47,418.4 768.90,418.4 769.24,418.4 769.24,417.6 769.58,417.6 769.91,417.6 769.91,417.2 770.25,417.2 770.59,417.2 770.59,413.3 770.92,413.3 771.26,413.3 771.26,414.5 771.60,414.5 772.03,414.5 772.03,418.8 772.47,418.8 772.90,418.8 772.90,419.4 773.33,419.4 773.77,419.4 773.77,423.7 774.20,423.7 774.63,423.7 774.63,418.5 775.07,418.5 775.50,418.5 775.50,416.4 775.93,416.4 776.37,416.4 776.37,414.5 776.80,414.5 777.14,414.5 777.14,419.2 777.47,419.2 777.81,419.2 777.81,420.2 778.15,420.2 778.49,420.2 778.49,426.5 778.83,426.5 779.16,426.5 779.16,428.9 779.50,428.9 779.93,428.9 779.93,429.5 780.37,429.5 780.80,429.5 780.80,425.4 781.23,425.4 781.67,425.4 781.67,423.7 782.10,423.7 782.50,423.7 782.50,422.6 782.90,422.6 783.30,422.6 783.30,422.5 783.70,422.5 784.10,422.5 784.10,423.0 784.50,423.0 784.90,423.0 784.90,422.9 785.30,422.9 785.70,422.9 785.70,421.0 786.10,421.0 786.53,421.0 786.53,419.0 786.97,419.0 787.40,419.0 787.40,416.5 787.83,416.5 788.27,416.5 788.27,413.2 788.70,413.2 789.13,413.2 789.13,413.7 789.57,413.7 790.00,413.7 790.00,416.6 790.43,416.6 790.87,416.6 790.87,421.0 791.30,421.0 791.73,421.0 791.73,418.9 792.17,418.9 792.60,418.9 792.60,420.5 793.03,420.5 793.47,420.5 793.47,418.4 793.90,418.4 794.30,418.4 794.30,416.4 794.70,416.4 795.10,416.4 795.10,416.7 795.50,416.7 795.90,416.7 795.90,412.8 796.30,412.8 796.70,412.8 796.70,412.0 797.10,412.0 797.50,412.0 797.50,413.2 797.90,413.2 798.33,413.2 798.33,412.9 798.77,412.9 799.20,412.9 799.20,415.8 799.63,415.8 800.07,415.8 800.07,415.8 800.50,415.8 800.84,415.8 800.84,417.4 801.17,417.4 801.51,417.4 801.51,418.0 801.85,418.0 802.19,418.0 802.19,416.7 802.53,416.7 802.86,416.7 802.86,418.4 803.20,418.4 803.65,418.4 803.65,417.1 804.10,417.1 804.55,417.1 804.55,415.7 805.00,415.7 805.30,415.7 805.30,420.8 805.60,420.8 805.90,420.8 805.90,426.3 806.20,426.3 806.62,426.3 806.62,427.3 807.05,427.3 807.47,427.3 807.47,428.6 807.90,428.6 808.20,428.6 808.20,424.4 808.50,424.4 808.80,424.4 808.80,425.9 809.10,425.9 809.40,425.9 809.40,421.6 809.70,421.6 810.12,421.6 810.12,420.6 810.55,420.6 810.97,420.6 810.97,422.7 811.40,422.7 811.70,422.7 811.70,421.6 812.00,421.6 812.30,421.6 812.30,415.7 812.60,415.7 812.90,415.7 812.90,415.5 813.20,415.5 813.50,415.5 813.50,411.0 813.80,411.0 814.10,411.0 814.10,412.7 814.40,412.7 814.70,412.7 814.70,419.2 815.00,419.2 815.25,419.2 815.25,432.1 815.50,432.1 815.80,432.1 815.80,429.5 816.10,429.5 816.40,429.5 816.40,427.4 816.70,427.4 817.00,427.4 817.00,424.9 817.30,424.9 817.60,424.9 817.60,419.2 817.90,419.2 818.20,419.2 818.20,419.8 818.50,419.8 818.80,419.8 818.80,415.7 819.10,415.7 819.53,415.7 819.53,417.2 819.95,417.2 820.38,417.2 820.38,419.2 820.80,419.2 821.10,419.2 821.10,418.8 821.40,418.8 821.70,418.8 821.70,419.3 822.00,419.3 822.30,419.3 822.30,421.6 822.60,421.6 823.03,421.6 823.03,423.2 823.45,423.2 823.88,423.2 823.88,420.4 824.30,420.4 824.60,420.4 824.60,421.9 824.90,421.9 825.20,421.9 825.20,426.3 825.50,426.3 825.80,426.3 825.80,420.3 826.10,420.3 826.40,420.3 826.40,413.4 826.70,413.4 827.12,413.4 827.12,411.0 827.55,411.0 827.97,411.0 827.97,412.2 828.40,412.2 828.70,412.2 828.70,411.2 829.00,411.2 829.30,411.2 829.30,412.1 829.60,412.1 829.90,412.1 829.90,408.7 830.20,408.7 830.50,408.7 830.50,409.2 830.80,409.2 831.10,409.2 831.10,413.4 831.40,413.4 831.67,413.4 831.67,419.7 831.95,419.7 832.23,419.7 832.23,422.7 832.50,422.7 832.95,422.7 832.95,423.0 833.40,423.0 833.85,423.0 833.85,423.3 834.30,423.3 834.60,423.3 834.60,425.8 834.90,425.8 835.20,425.8 835.20,425.5 835.50,425.5 835.80,425.5 835.80,425.1 836.10,425.1 836.53,425.1 836.53,422.0 836.95,422.0 837.38,422.0 837.38,421.6 837.80,421.6 838.20,421.6 838.20,422.4 838.60,422.4 839.00,422.4 839.00,419.1 839.40,419.1 839.80,419.1 839.80,418.0 840.20,418.0 840.58,418.0 840.58,414.7 840.97,414.7 841.35,414.7 841.35,413.6 841.73,413.6 842.12,413.6 842.12,415.1 842.50,415.1 842.95,415.1 842.95,414.8 843.40,414.8 843.85,414.8 843.85,414.5 844.30,414.5 844.57,414.5 844.57,409.6 844.85,409.6 845.12,409.6 845.12,405.2 845.40,405.2 845.70,405.2 845.70,405.7 846.00,405.7 846.30,405.7 846.30,406.5 846.60,406.5 846.90,406.5 846.90,409.8 847.20,409.8 847.62,409.8 847.62,408.5 848.05,408.5 848.47,408.5 848.47,408.7 848.90,408.7 849.20,408.7 849.20,406.0 849.50,406.0 849.80,406.0 849.80,405.2 850.10,405.2 850.40,405.2 850.40,415.7 850.70,415.7 851.15,415.7 851.15,418.6 851.60,418.6 852.05,418.6 852.05,418.0 852.50,418.0 852.92,418.0 852.92,416.1 853.35,416.1 853.78,416.1 853.78,419.2 854.20,419.2 854.65,419.2 854.65,421.7 855.10,421.7 855.55,421.7 855.55,421.6 856.00,421.6 856.42,421.6 856.42,419.2 856.85,419.2 857.28,419.2 857.28,413.4 857.70,413.4 858.00,413.4 858.00,413.3 858.30,413.3 858.60,413.3 858.60,416.9 858.90,416.9 859.20,416.9 859.20,416.1 859.50,416.1 859.80,416.1 859.80,411.0 860.10,411.0 860.40,411.0 860.40,417.4 860.70,417.4 861.00,417.4 861.00,421.6 861.30,421.6 861.57,421.6 861.57,417.2 861.85,417.2 862.12,417.2 862.12,408.7 862.40,408.7 862.70,408.7 862.70,404.1 863.00,404.1 863.30,404.1 863.30,401.6 863.60,401.6 863.90,401.6 863.90,403.3 864.20,403.3 864.50,403.3 864.50,406.3 864.80,406.3 865.22,406.3 865.22,407.0 865.65,407.0 866.08,407.0 866.08,408.7 866.50,408.7 866.90,408.7 866.90,411.2 867.30,411.2 867.70,411.2 867.70,409.1 868.10,409.1 868.50,409.1 868.50,408.7 868.90,408.7 869.33,408.7 869.33,408.6 869.75,408.6 870.17,408.6 870.17,409.8 870.60,409.8 871.05,409.8 871.05,410.0 871.50,410.0 871.95,410.0 871.95,411.0 872.40,411.0 872.83,411.0 872.83,412.8 873.25,412.8 873.67,412.8 873.67,416.9 874.10,416.9 874.40,416.9 874.40,411.7 874.70,411.7 875.00,411.7 875.00,411.0 875.30,411.0 875.60,411.0 875.60,407.8 875.90,407.8 876.20,407.8 876.20,410.3 876.50,410.3 876.80,410.3 876.80,407.5 877.10,407.5 877.53,407.5 877.53,405.3 877.95,405.3 878.38,405.3 878.38,405.2 878.80,405.2 879.10,405.2 879.10,406.8 879.40,406.8 879.70,406.8 879.70,404.0 880.00,404.0 880.30,404.0 880.30,405.1 880.60,405.1 880.90,405.1 880.90,408.7 881.20,408.7 881.62,408.7 881.62,408.7 882.05,408.7 882.47,408.7 882.47,411.0 882.90,411.0 883.20,411.0 883.20,411.5 883.50,411.5 883.80,411.5 883.80,410.2 884.10,410.2 884.40,410.2 884.40,412.2 884.70,412.2 885.12,412.2 885.12,413.9 885.55,413.9 885.97,413.9 885.97,416.9 886.40,416.9 886.70,416.9 886.70,423.3 887.00,423.3 887.30,423.3 887.30,425.1 887.60,425.1 887.90,425.1 887.90,422.9 888.20,422.9 888.50,422.9 888.50,416.9 888.80,416.9 889.10,416.9 889.10,417.7 889.40,417.7 889.70,417.7 889.70,416.0 890.00,416.0 890.30,416.0 890.30,414.5 890.60,414.5 891.03,414.5 891.03,414.2 891.45,414.2 891.88,414.2 891.88,409.8 892.30,409.8 892.60,409.8 892.60,409.7 892.90,409.7 893.20,409.7 893.20,405.2 893.50,405.2 893.80,405.2 893.80,409.5 894.10,409.5 894.40,409.5 894.40,413.4 894.70,413.4 895.12,413.4 895.12,409.2 895.55,409.2 895.97,409.2 895.97,402.8 896.40,402.8 896.70,402.8 896.70,400.1 897.00,400.1 897.30,400.1 897.30,403.2 897.60,403.2 897.90,403.2 897.90,401.6 898.20,401.6 898.48,401.6 898.48,406.1 898.75,406.1 899.02,406.1 899.02,411.0 899.30,411.0 899.60,411.0 899.60,409.4 899.90,409.4 900.20,409.4 900.20,405.2 900.50,405.2 900.95,405.2 900.95,403.0 901.40,403.0 901.85,403.0 901.85,399.3 902.30,399.3 902.57,399.3 902.57,397.1 902.85,397.1 903.12,397.1 903.12,397.0 903.40,397.0 903.70,397.0 903.70,396.5 904.00,396.5 904.30,396.5 904.30,400.5 904.60,400.5 904.90,400.5 904.90,400.3 905.20,400.3 905.50,400.3 905.50,395.8 905.80,395.8 906.10,395.8 906.10,387.6 906.40,387.6 906.83,387.6 906.83,384.5 907.25,384.5 907.67,384.5 907.67,385.2 908.10,385.2 908.40,385.2 908.40,393.4 908.70,393.4 909.15,393.4 909.15,394.5 909.60,394.5 910.05,394.5 910.05,395.8 910.50,395.8 910.77,395.8 910.77,395.0 911.05,395.0 911.33,395.0 911.33,395.8 911.60,395.8 911.90,395.8 911.90,405.2 912.20,405.2 912.50,405.2 912.50,408.8 912.80,408.8 913.10,408.8 913.10,414.5 913.40,414.5 913.70,414.5 913.70,415.7 914.00,415.7 914.30,415.7 914.30,414.5 914.60,414.5 914.88,414.5 914.88,412.8 915.15,412.8 915.43,412.8 915.43,406.3 915.70,406.3 916.00,406.3 916.00,404.6 916.30,404.6 916.60,404.6 916.60,405.2 916.90,405.2 917.20,405.2 917.20,409.8 917.50,409.8" fill="none" stroke="#ff0000" stroke-width="2.2" stroke-linejoin="miter" stroke-miterlimit="2"/>
<text x="275.5" y="243.0" class="an">(220)</text>
<text x="353.2" y="38.3" class="an">(311)</text>
<text x="407.0" y="258.0" class="an">(222)</text>
<text x="466.4" y="312.2" class="an">(400)</text>
<text x="595.3" y="367.0" class="an">(422)</text>
<text x="658.8" y="279.1" class="an">(511)</text>
<text x="724" y="229.9" class="an" style="font-size:30px;letter-spacing:1.1px">(440)</text>
<rect x="522" y="21" width="489" height="112" fill="none" stroke="#000" stroke-width="2"/>
<rect x="527.5" y="41.6" width="63" height="2.2" fill="#000"/>
<rect x="527.5" y="85.5" width="63" height="2.6" fill="#ff0000"/>
<text x="605" y="51.5" class="lg">CoFe<tspan class="sb" dy="11">2</tspan><tspan dy="-11">O</tspan><tspan class="sb" dy="11">4</tspan><tspan dy="-11">@SiO</tspan><tspan class="sb" dy="11">2</tspan></text>
<text x="605" y="94" class="lg">CoFe<tspan class="sb" dy="11">2</tspan><tspan dy="-11">O</tspan><tspan class="sb" dy="11">4</tspan><tspan dy="-11">@SiO</tspan><tspan class="sb" dy="11">2</tspan><tspan dy="-11"> After Sintering</tspan></text>
<text x="455.5" y="705.5" class="ax">2<tspan style="font-size:23px">θ</tspan> <tspan fill="#334" stroke="none" style="font-size:24px">(</tspan>Degrees)</text>
<text transform="translate(42.5,430) rotate(-90)" x="0" y="0" class="ax">Intensity <tspan fill="#334" stroke="none">(</tspan>a.u.<tspan fill="#334" stroke="none" dx="1">)</tspan></text>
</svg>
</body></html>
